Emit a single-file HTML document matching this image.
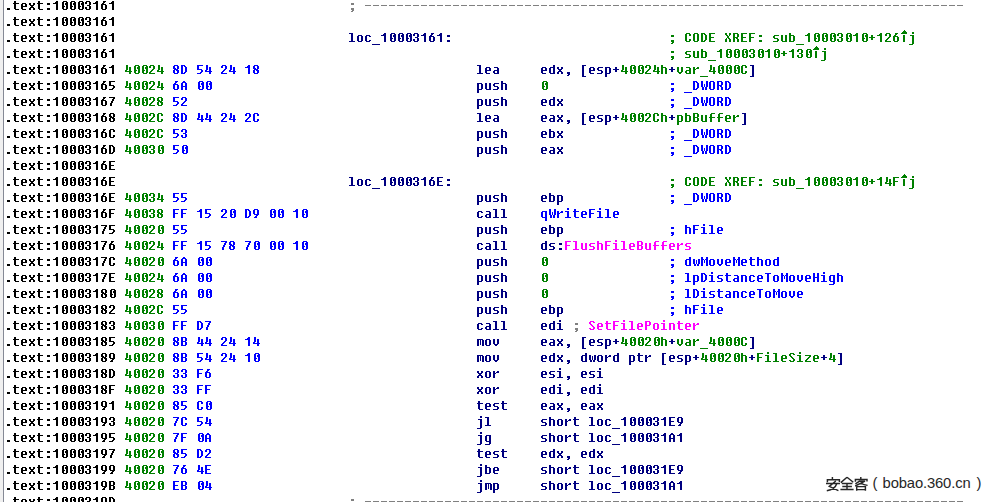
<!DOCTYPE html>
<html><head><meta charset="utf-8"><style>
html,body{margin:0;padding:0;}
body{width:996px;height:502px;overflow:hidden;background:#fff;position:relative;}
#gut{position:absolute;left:0;top:0;width:3px;height:502px;background:#f0f0f0;}
#gl{position:absolute;left:3px;top:0;width:1px;height:502px;background:#858995;}
svg{position:absolute;left:0;top:0;}

</style></head><body>
<div id="gut"></div><div id="gl"></div>
<svg width="996" height="502" viewBox="0 0 996 502" shape-rendering="crispEdges"><defs><path id="g2e" d="M2 8h3v1h-3zM2 9h3v1h-3z"/>
<path id="g3a" d="M2 3h3v1h-3zM2 4h3v1h-3zM2 8h3v1h-3zM2 9h3v1h-3z"/>
<path id="g3b" d="M2 3h3v1h-3zM2 4h3v1h-3zM2 8h3v1h-3zM2 9h3v1h-3zM3 10h2v1h-2zM2 11h2v1h-2z"/>
<path id="g2c" d="M2 8h3v1h-3zM2 9h3v1h-3zM3 10h2v1h-2zM2 11h2v1h-2z"/>
<path id="g2d" d="M0 5h6v1h-6z"/>
<path id="g5f" d="M-1 12h8v1h-8z"/>
<path id="g2b" d="M2 3h2v1h-2zM2 4h2v1h-2zM0 5h6v1h-6zM2 6h2v1h-2zM2 7h2v1h-2z"/>
<path id="g5b" d="M1 1h4v1h-4zM1 2h2v1h-2zM1 3h2v1h-2zM1 4h2v1h-2zM1 5h2v1h-2zM1 6h2v1h-2zM1 7h2v1h-2zM1 8h2v1h-2zM1 9h2v1h-2zM1 10h2v1h-2zM1 11h2v1h-2zM1 12h4v1h-4z"/>
<path id="g5d" d="M1 1h4v1h-4zM3 2h2v1h-2zM3 3h2v1h-2zM3 4h2v1h-2zM3 5h2v1h-2zM3 6h2v1h-2zM3 7h2v1h-2zM3 8h2v1h-2zM3 9h2v1h-2zM3 10h2v1h-2zM3 11h2v1h-2zM1 12h4v1h-4z"/>
<path id="garr" d="M3 -2h1v1h-1zM2 -1h3v1h-3zM1 0h5v1h-5zM0 1h6v1h-6zM2 3h2v1h-2zM2 4h2v1h-2zM2 5h2v1h-2zM2 6h2v1h-2zM2 7h2v1h-2zM2 8h2v1h-2zM2 9h2v1h-2z"/>
<path id="g30" d="M2 1h4v1h-4zM1 2h2v1h-2zM5 2h2v1h-2zM1 3h2v1h-2zM4 3h3v1h-3zM1 4h2v1h-2zM4 4h3v1h-3zM1 5h2v1h-2zM5 5h2v1h-2zM1 6h3v1h-3zM5 6h2v1h-2zM1 7h2v1h-2zM5 7h2v1h-2zM1 8h2v1h-2zM5 8h2v1h-2zM2 9h4v1h-4z"/>
<path id="g31" d="M3 1h2v1h-2zM2 2h3v1h-3zM0 3h5v1h-5zM3 4h2v1h-2zM3 5h2v1h-2zM3 6h2v1h-2zM3 7h2v1h-2zM3 8h2v1h-2zM3 9h2v1h-2z"/>
<path id="g32" d="M1 1h4v1h-4zM0 2h2v1h-2zM4 2h2v1h-2zM0 3h2v1h-2zM4 3h2v1h-2zM4 4h2v1h-2zM3 5h2v1h-2zM2 6h2v1h-2zM1 7h2v1h-2zM0 8h2v1h-2zM0 9h6v1h-6z"/>
<path id="g33" d="M1 1h4v1h-4zM0 2h2v1h-2zM4 2h2v1h-2zM0 3h2v1h-2zM4 3h2v1h-2zM4 4h2v1h-2zM2 5h3v1h-3zM4 6h2v1h-2zM0 7h2v1h-2zM4 7h2v1h-2zM0 8h2v1h-2zM4 8h2v1h-2zM1 9h4v1h-4z"/>
<path id="g34" d="M1 1h2v1h-2zM1 2h2v1h-2zM1 3h2v1h-2zM4 3h2v1h-2zM1 4h2v1h-2zM4 4h2v1h-2zM1 5h2v1h-2zM4 5h2v1h-2zM0 6h2v1h-2zM4 6h2v1h-2zM0 7h7v1h-7zM4 8h2v1h-2zM4 9h2v1h-2z"/>
<path id="g35" d="M0 1h6v1h-6zM0 2h2v1h-2zM0 3h2v1h-2zM0 4h2v1h-2zM0 5h5v1h-5zM4 6h2v1h-2zM4 7h2v1h-2zM3 8h2v1h-2zM0 9h4v1h-4z"/>
<path id="g36" d="M2 1h3v1h-3zM2 2h2v1h-2zM1 3h2v1h-2zM0 4h5v1h-5zM0 5h2v1h-2zM4 5h2v1h-2zM0 6h2v1h-2zM4 6h2v1h-2zM0 7h2v1h-2zM4 7h2v1h-2zM0 8h2v1h-2zM4 8h2v1h-2zM1 9h4v1h-4z"/>
<path id="g38" d="M1 1h4v1h-4zM0 2h2v1h-2zM4 2h2v1h-2zM0 3h2v1h-2zM4 3h2v1h-2zM0 4h3v1h-3zM4 4h2v1h-2zM1 5h4v1h-4zM0 6h2v1h-2zM3 6h3v1h-3zM0 7h2v1h-2zM4 7h2v1h-2zM0 8h2v1h-2zM4 8h2v1h-2zM1 9h4v1h-4z"/>
<path id="g43" d="M1 1h4v1h-4zM0 2h2v1h-2zM4 2h2v1h-2zM0 3h2v1h-2zM4 3h2v1h-2zM0 4h2v1h-2zM0 5h2v1h-2zM0 6h2v1h-2zM0 7h2v1h-2zM4 7h2v1h-2zM0 8h2v1h-2zM4 8h2v1h-2zM1 9h4v1h-4z"/>
<path id="g44" d="M0 1h4v1h-4zM0 2h2v1h-2zM3 2h2v1h-2zM0 3h2v1h-2zM4 3h2v1h-2zM0 4h2v1h-2zM4 4h2v1h-2zM0 5h2v1h-2zM4 5h2v1h-2zM0 6h2v1h-2zM4 6h2v1h-2zM0 7h2v1h-2zM4 7h2v1h-2zM0 8h2v1h-2zM3 8h2v1h-2zM0 9h4v1h-4z"/>
<path id="g45" d="M0 1h6v1h-6zM0 2h2v1h-2zM0 3h2v1h-2zM0 4h2v1h-2zM0 5h5v1h-5zM0 6h2v1h-2zM0 7h2v1h-2zM0 8h2v1h-2zM0 9h6v1h-6z"/>
<path id="g46" d="M0 1h6v1h-6zM0 2h2v1h-2zM0 3h2v1h-2zM0 4h2v1h-2zM0 5h5v1h-5zM0 6h2v1h-2zM0 7h2v1h-2zM0 8h2v1h-2zM0 9h2v1h-2z"/>
<path id="g4f" d="M1 1h4v1h-4zM0 2h2v1h-2zM4 2h2v1h-2zM0 3h2v1h-2zM4 3h2v1h-2zM0 4h2v1h-2zM4 4h2v1h-2zM0 5h2v1h-2zM4 5h2v1h-2zM0 6h2v1h-2zM4 6h2v1h-2zM0 7h2v1h-2zM4 7h2v1h-2zM0 8h2v1h-2zM4 8h2v1h-2zM1 9h4v1h-4z"/>
<path id="g52" d="M0 1h5v1h-5zM0 2h2v1h-2zM4 2h2v1h-2zM0 3h2v1h-2zM4 3h2v1h-2zM0 4h2v1h-2zM4 4h2v1h-2zM0 5h5v1h-5zM0 6h2v1h-2zM3 6h2v1h-2zM0 7h2v1h-2zM4 7h2v1h-2zM0 8h2v1h-2zM4 8h2v1h-2zM0 9h2v1h-2zM4 9h2v1h-2z"/>
<path id="g58" d="M0 1h2v1h-2zM4 1h2v1h-2zM0 2h2v1h-2zM4 2h2v1h-2zM1 3h2v1h-2zM4 3h1v1h-1zM2 4h2v1h-2zM2 5h2v1h-2zM1 6h1v1h-1zM3 6h2v1h-2zM0 7h2v1h-2zM4 7h2v1h-2zM0 8h2v1h-2zM4 8h2v1h-2zM0 9h2v1h-2zM4 9h2v1h-2z"/>
<path id="g57" d="M0 1h2v1h-2zM5 1h2v1h-2zM0 2h2v1h-2zM5 2h2v1h-2zM0 3h2v1h-2zM5 3h2v1h-2zM0 4h2v1h-2zM3 4h1v1h-1zM5 4h2v1h-2zM0 5h2v1h-2zM3 5h1v1h-1zM5 5h2v1h-2zM0 6h2v1h-2zM3 6h1v1h-1zM5 6h2v1h-2zM1 7h2v1h-2zM4 7h2v1h-2zM1 8h2v1h-2zM4 8h2v1h-2zM1 9h2v1h-2zM4 9h2v1h-2z"/>
<path id="g61" d="M1 3h4v1h-4zM4 4h2v1h-2zM4 5h2v1h-2zM1 6h5v1h-5zM0 7h2v1h-2zM4 7h2v1h-2zM0 8h2v1h-2zM4 8h2v1h-2zM1 9h5v1h-5z"/>
<path id="g62" d="M0 1h2v1h-2zM0 2h2v1h-2zM0 3h5v1h-5zM0 4h2v1h-2zM4 4h2v1h-2zM0 5h2v1h-2zM4 5h2v1h-2zM0 6h2v1h-2zM4 6h2v1h-2zM0 7h2v1h-2zM4 7h2v1h-2zM0 8h2v1h-2zM4 8h2v1h-2zM0 9h5v1h-5z"/>
<path id="g63" d="M1 3h4v1h-4zM0 4h2v1h-2zM4 4h2v1h-2zM0 5h2v1h-2zM0 6h2v1h-2zM0 7h2v1h-2zM0 8h2v1h-2zM4 8h2v1h-2zM1 9h4v1h-4z"/>
<path id="g64" d="M4 1h2v1h-2zM4 2h2v1h-2zM1 3h5v1h-5zM0 4h2v1h-2zM4 4h2v1h-2zM0 5h2v1h-2zM4 5h2v1h-2zM0 6h2v1h-2zM4 6h2v1h-2zM0 7h2v1h-2zM4 7h2v1h-2zM0 8h2v1h-2zM4 8h2v1h-2zM1 9h5v1h-5z"/>
<path id="g65" d="M1 3h4v1h-4zM0 4h2v1h-2zM4 4h2v1h-2zM0 5h2v1h-2zM4 5h2v1h-2zM0 6h6v1h-6zM0 7h2v1h-2zM0 8h2v1h-2zM1 9h4v1h-4z"/>
<path id="g68" d="M0 1h2v1h-2zM0 2h2v1h-2zM0 3h5v1h-5zM0 4h2v1h-2zM4 4h2v1h-2zM0 5h2v1h-2zM4 5h2v1h-2zM0 6h2v1h-2zM4 6h2v1h-2zM0 7h2v1h-2zM4 7h2v1h-2zM0 8h2v1h-2zM4 8h2v1h-2zM0 9h2v1h-2zM4 9h2v1h-2z"/>
<path id="g6a" d="M3 0h2v1h-2zM3 1h2v1h-2zM1 3h4v1h-4zM3 4h2v1h-2zM3 5h2v1h-2zM3 6h2v1h-2zM3 7h2v1h-2zM3 8h2v1h-2zM3 9h2v1h-2zM3 10h2v1h-2zM3 11h2v1h-2zM0 12h4v1h-4z"/>
<path id="g6c" d="M0 1h4v1h-4zM2 2h2v1h-2zM2 3h2v1h-2zM2 4h2v1h-2zM2 5h2v1h-2zM2 6h2v1h-2zM2 7h2v1h-2zM2 8h2v1h-2zM0 9h6v1h-6z"/>
<path id="g6f" d="M1 3h4v1h-4zM0 4h2v1h-2zM4 4h2v1h-2zM0 5h2v1h-2zM4 5h2v1h-2zM0 6h2v1h-2zM4 6h2v1h-2zM0 7h2v1h-2zM4 7h2v1h-2zM0 8h2v1h-2zM4 8h2v1h-2zM1 9h4v1h-4z"/>
<path id="g70" d="M0 3h5v1h-5zM0 4h2v1h-2zM4 4h2v1h-2zM0 5h2v1h-2zM4 5h2v1h-2zM0 6h2v1h-2zM4 6h2v1h-2zM0 7h2v1h-2zM4 7h2v1h-2zM0 8h2v1h-2zM4 8h2v1h-2zM0 9h5v1h-5zM0 10h2v1h-2zM0 11h2v1h-2zM0 12h2v1h-2z"/>
<path id="g72" d="M0 3h2v1h-2zM4 3h2v1h-2zM0 4h2v1h-2zM3 4h3v1h-3zM0 5h3v1h-3zM0 6h2v1h-2zM0 7h2v1h-2zM0 8h2v1h-2zM0 9h2v1h-2z"/>
<path id="g73" d="M1 3h5v1h-5zM0 4h2v1h-2zM0 5h2v1h-2zM1 6h4v1h-4zM4 7h2v1h-2zM4 8h2v1h-2zM0 9h5v1h-5z"/>
<path id="g74" d="M1 1h2v1h-2zM1 2h2v1h-2zM0 3h6v1h-6zM1 4h2v1h-2zM1 5h2v1h-2zM1 6h2v1h-2zM1 7h2v1h-2zM1 8h2v1h-2zM2 9h4v1h-4z"/>
<path id="g75" d="M0 3h2v1h-2zM4 3h2v1h-2zM0 4h2v1h-2zM4 4h2v1h-2zM0 5h2v1h-2zM4 5h2v1h-2zM0 6h2v1h-2zM4 6h2v1h-2zM0 7h2v1h-2zM4 7h2v1h-2zM0 8h2v1h-2zM4 8h2v1h-2zM1 9h5v1h-5z"/>
<path id="g76" d="M0 3h2v1h-2zM4 3h2v1h-2zM0 4h2v1h-2zM4 4h2v1h-2zM0 5h2v1h-2zM4 5h2v1h-2zM0 6h2v1h-2zM4 6h2v1h-2zM0 7h2v1h-2zM4 7h2v1h-2zM1 8h4v1h-4zM2 9h2v1h-2z"/>
<path id="g78" d="M0 3h2v1h-2zM4 3h2v1h-2zM0 4h2v1h-2zM4 4h2v1h-2zM1 5h4v1h-4zM2 6h2v1h-2zM1 7h4v1h-4zM0 8h2v1h-2zM4 8h2v1h-2zM0 9h2v1h-2zM4 9h2v1h-2z"/>
<path id="g37" d="M0 1h6v1h-6zM4 2h2v1h-2zM3 3h2v1h-2zM3 4h2v1h-2zM2 5h2v1h-2zM2 6h2v1h-2zM1 7h2v1h-2zM1 8h2v1h-2zM1 9h2v1h-2z"/>
<path id="g39" d="M1 1h4v1h-4zM0 2h2v1h-2zM4 2h2v1h-2zM0 3h2v1h-2zM4 3h2v1h-2zM0 4h2v1h-2zM4 4h2v1h-2zM0 5h2v1h-2zM4 5h2v1h-2zM1 6h5v1h-5zM3 7h2v1h-2zM2 8h2v1h-2zM1 9h3v1h-3z"/>
<path id="g41" d="M2 1h2v1h-2zM1 2h4v1h-4zM0 3h2v1h-2zM4 3h2v1h-2zM0 4h2v1h-2zM4 4h2v1h-2zM0 5h2v1h-2zM4 5h2v1h-2zM0 6h6v1h-6zM0 7h2v1h-2zM4 7h2v1h-2zM0 8h2v1h-2zM4 8h2v1h-2zM0 9h2v1h-2zM4 9h2v1h-2z"/>
<path id="g42" d="M0 1h5v1h-5zM0 2h2v1h-2zM4 2h2v1h-2zM0 3h2v1h-2zM4 3h2v1h-2zM0 4h2v1h-2zM4 4h2v1h-2zM0 5h5v1h-5zM0 6h2v1h-2zM4 6h2v1h-2zM0 7h2v1h-2zM4 7h2v1h-2zM0 8h2v1h-2zM4 8h2v1h-2zM0 9h5v1h-5z"/>
<path id="g48" d="M0 1h2v1h-2zM4 1h2v1h-2zM0 2h2v1h-2zM4 2h2v1h-2zM0 3h2v1h-2zM4 3h2v1h-2zM0 4h2v1h-2zM4 4h2v1h-2zM0 5h6v1h-6zM0 6h2v1h-2zM4 6h2v1h-2zM0 7h2v1h-2zM4 7h2v1h-2zM0 8h2v1h-2zM4 8h2v1h-2zM0 9h2v1h-2zM4 9h2v1h-2z"/>
<path id="g4d" d="M0 1h2v1h-2zM5 1h2v1h-2zM0 2h2v1h-2zM5 2h2v1h-2zM0 3h3v1h-3zM4 3h3v1h-3zM0 4h2v1h-2zM3 4h1v1h-1zM5 4h2v1h-2zM0 5h2v1h-2zM3 5h1v1h-1zM5 5h2v1h-2zM0 6h2v1h-2zM3 6h1v1h-1zM5 6h2v1h-2zM0 7h2v1h-2zM5 7h2v1h-2zM0 8h2v1h-2zM5 8h2v1h-2zM0 9h2v1h-2zM5 9h2v1h-2z"/>
<path id="g50" d="M0 1h5v1h-5zM0 2h2v1h-2zM4 2h2v1h-2zM0 3h2v1h-2zM4 3h2v1h-2zM0 4h2v1h-2zM4 4h2v1h-2zM0 5h5v1h-5zM0 6h2v1h-2zM0 7h2v1h-2zM0 8h2v1h-2zM0 9h2v1h-2z"/>
<path id="g53" d="M1 1h4v1h-4zM0 2h2v1h-2zM4 2h2v1h-2zM0 3h2v1h-2zM1 4h2v1h-2zM2 5h2v1h-2zM3 6h2v1h-2zM4 7h2v1h-2zM0 8h2v1h-2zM4 8h2v1h-2zM1 9h4v1h-4z"/>
<path id="g54" d="M0 1h6v1h-6zM2 2h2v1h-2zM2 3h2v1h-2zM2 4h2v1h-2zM2 5h2v1h-2zM2 6h2v1h-2zM2 7h2v1h-2zM2 8h2v1h-2zM2 9h2v1h-2z"/>
<path id="g66" d="M2 1h4v1h-4zM1 2h2v1h-2zM1 3h2v1h-2zM1 4h2v1h-2zM0 5h6v1h-6zM1 6h2v1h-2zM1 7h2v1h-2zM1 8h2v1h-2zM1 9h2v1h-2z"/>
<path id="g67" d="M1 3h5v1h-5zM0 4h2v1h-2zM4 4h2v1h-2zM0 5h2v1h-2zM4 5h2v1h-2zM0 6h2v1h-2zM4 6h2v1h-2zM0 7h2v1h-2zM4 7h2v1h-2zM0 8h2v1h-2zM4 8h2v1h-2zM1 9h5v1h-5zM4 10h2v1h-2zM4 11h2v1h-2zM0 12h5v1h-5z"/>
<path id="g69" d="M2 0h2v1h-2zM2 1h2v1h-2zM0 3h4v1h-4zM2 4h2v1h-2zM2 5h2v1h-2zM2 6h2v1h-2zM2 7h2v1h-2zM2 8h2v1h-2zM0 9h6v1h-6z"/>
<path id="g6d" d="M0 3h6v1h-6zM0 4h2v1h-2zM3 4h1v1h-1zM5 4h2v1h-2zM0 5h2v1h-2zM3 5h1v1h-1zM5 5h2v1h-2zM0 6h2v1h-2zM3 6h1v1h-1zM5 6h2v1h-2zM0 7h2v1h-2zM3 7h1v1h-1zM5 7h2v1h-2zM0 8h2v1h-2zM3 8h1v1h-1zM5 8h2v1h-2zM0 9h2v1h-2zM5 9h2v1h-2z"/>
<path id="g6e" d="M0 3h5v1h-5zM0 4h2v1h-2zM4 4h2v1h-2zM0 5h2v1h-2zM4 5h2v1h-2zM0 6h2v1h-2zM4 6h2v1h-2zM0 7h2v1h-2zM4 7h2v1h-2zM0 8h2v1h-2zM4 8h2v1h-2zM0 9h2v1h-2zM4 9h2v1h-2z"/>
<path id="g71" d="M1 3h5v1h-5zM0 4h2v1h-2zM4 4h2v1h-2zM0 5h2v1h-2zM4 5h2v1h-2zM0 6h2v1h-2zM4 6h2v1h-2zM0 7h2v1h-2zM4 7h2v1h-2zM0 8h2v1h-2zM4 8h2v1h-2zM1 9h5v1h-5zM4 10h2v1h-2zM4 11h2v1h-2zM4 12h2v1h-2z"/>
<path id="g77" d="M0 3h2v1h-2zM5 3h2v1h-2zM0 4h2v1h-2zM3 4h1v1h-1zM5 4h2v1h-2zM0 5h2v1h-2zM3 5h1v1h-1zM5 5h2v1h-2zM0 6h2v1h-2zM3 6h1v1h-1zM5 6h2v1h-2zM0 7h2v1h-2zM3 7h1v1h-1zM5 7h2v1h-2zM1 8h2v1h-2zM4 8h2v1h-2zM1 9h2v1h-2zM4 9h2v1h-2z"/>
<path id="g7a" d="M0 3h6v1h-6zM4 4h2v1h-2zM3 5h2v1h-2zM2 6h2v1h-2zM1 7h2v1h-2zM0 8h2v1h-2zM0 9h6v1h-6z"/></defs>
<use href="#g2e" x="5" y="0" fill="#000000"/>
<use href="#g74" x="13" y="0" fill="#000000"/>
<use href="#g65" x="21" y="0" fill="#000000"/>
<use href="#g78" x="29" y="0" fill="#000000"/>
<use href="#g74" x="37" y="0" fill="#000000"/>
<use href="#g3a" x="45" y="0" fill="#000000"/>
<use href="#g31" x="53" y="0" fill="#000000"/>
<use href="#g30" x="61" y="0" fill="#000000"/>
<use href="#g30" x="69" y="0" fill="#000000"/>
<use href="#g30" x="77" y="0" fill="#000000"/>
<use href="#g33" x="85" y="0" fill="#000000"/>
<use href="#g31" x="93" y="0" fill="#000000"/>
<use href="#g36" x="101" y="0" fill="#000000"/>
<use href="#g31" x="109" y="0" fill="#000000"/>
<use href="#g3b" x="349" y="0" fill="#808080"/>
<use href="#g2d" x="365" y="0" fill="#808080"/>
<use href="#g2d" x="373" y="0" fill="#808080"/>
<use href="#g2d" x="381" y="0" fill="#808080"/>
<use href="#g2d" x="389" y="0" fill="#808080"/>
<use href="#g2d" x="397" y="0" fill="#808080"/>
<use href="#g2d" x="405" y="0" fill="#808080"/>
<use href="#g2d" x="413" y="0" fill="#808080"/>
<use href="#g2d" x="421" y="0" fill="#808080"/>
<use href="#g2d" x="429" y="0" fill="#808080"/>
<use href="#g2d" x="437" y="0" fill="#808080"/>
<use href="#g2d" x="445" y="0" fill="#808080"/>
<use href="#g2d" x="453" y="0" fill="#808080"/>
<use href="#g2d" x="461" y="0" fill="#808080"/>
<use href="#g2d" x="469" y="0" fill="#808080"/>
<use href="#g2d" x="477" y="0" fill="#808080"/>
<use href="#g2d" x="485" y="0" fill="#808080"/>
<use href="#g2d" x="493" y="0" fill="#808080"/>
<use href="#g2d" x="501" y="0" fill="#808080"/>
<use href="#g2d" x="509" y="0" fill="#808080"/>
<use href="#g2d" x="517" y="0" fill="#808080"/>
<use href="#g2d" x="525" y="0" fill="#808080"/>
<use href="#g2d" x="533" y="0" fill="#808080"/>
<use href="#g2d" x="541" y="0" fill="#808080"/>
<use href="#g2d" x="549" y="0" fill="#808080"/>
<use href="#g2d" x="557" y="0" fill="#808080"/>
<use href="#g2d" x="565" y="0" fill="#808080"/>
<use href="#g2d" x="573" y="0" fill="#808080"/>
<use href="#g2d" x="581" y="0" fill="#808080"/>
<use href="#g2d" x="589" y="0" fill="#808080"/>
<use href="#g2d" x="597" y="0" fill="#808080"/>
<use href="#g2d" x="605" y="0" fill="#808080"/>
<use href="#g2d" x="613" y="0" fill="#808080"/>
<use href="#g2d" x="621" y="0" fill="#808080"/>
<use href="#g2d" x="629" y="0" fill="#808080"/>
<use href="#g2d" x="637" y="0" fill="#808080"/>
<use href="#g2d" x="645" y="0" fill="#808080"/>
<use href="#g2d" x="653" y="0" fill="#808080"/>
<use href="#g2d" x="661" y="0" fill="#808080"/>
<use href="#g2d" x="669" y="0" fill="#808080"/>
<use href="#g2d" x="677" y="0" fill="#808080"/>
<use href="#g2d" x="685" y="0" fill="#808080"/>
<use href="#g2d" x="693" y="0" fill="#808080"/>
<use href="#g2d" x="701" y="0" fill="#808080"/>
<use href="#g2d" x="709" y="0" fill="#808080"/>
<use href="#g2d" x="717" y="0" fill="#808080"/>
<use href="#g2d" x="725" y="0" fill="#808080"/>
<use href="#g2d" x="733" y="0" fill="#808080"/>
<use href="#g2d" x="741" y="0" fill="#808080"/>
<use href="#g2d" x="749" y="0" fill="#808080"/>
<use href="#g2d" x="757" y="0" fill="#808080"/>
<use href="#g2d" x="765" y="0" fill="#808080"/>
<use href="#g2d" x="773" y="0" fill="#808080"/>
<use href="#g2d" x="781" y="0" fill="#808080"/>
<use href="#g2d" x="789" y="0" fill="#808080"/>
<use href="#g2d" x="797" y="0" fill="#808080"/>
<use href="#g2d" x="805" y="0" fill="#808080"/>
<use href="#g2d" x="813" y="0" fill="#808080"/>
<use href="#g2d" x="821" y="0" fill="#808080"/>
<use href="#g2d" x="829" y="0" fill="#808080"/>
<use href="#g2d" x="837" y="0" fill="#808080"/>
<use href="#g2d" x="845" y="0" fill="#808080"/>
<use href="#g2d" x="853" y="0" fill="#808080"/>
<use href="#g2d" x="861" y="0" fill="#808080"/>
<use href="#g2d" x="869" y="0" fill="#808080"/>
<use href="#g2d" x="877" y="0" fill="#808080"/>
<use href="#g2d" x="885" y="0" fill="#808080"/>
<use href="#g2d" x="893" y="0" fill="#808080"/>
<use href="#g2d" x="901" y="0" fill="#808080"/>
<use href="#g2d" x="909" y="0" fill="#808080"/>
<use href="#g2d" x="917" y="0" fill="#808080"/>
<use href="#g2d" x="925" y="0" fill="#808080"/>
<use href="#g2d" x="933" y="0" fill="#808080"/>
<use href="#g2d" x="941" y="0" fill="#808080"/>
<use href="#g2d" x="949" y="0" fill="#808080"/>
<use href="#g2d" x="957" y="0" fill="#808080"/>
<use href="#g2e" x="5" y="16" fill="#000000"/>
<use href="#g74" x="13" y="16" fill="#000000"/>
<use href="#g65" x="21" y="16" fill="#000000"/>
<use href="#g78" x="29" y="16" fill="#000000"/>
<use href="#g74" x="37" y="16" fill="#000000"/>
<use href="#g3a" x="45" y="16" fill="#000000"/>
<use href="#g31" x="53" y="16" fill="#000000"/>
<use href="#g30" x="61" y="16" fill="#000000"/>
<use href="#g30" x="69" y="16" fill="#000000"/>
<use href="#g30" x="77" y="16" fill="#000000"/>
<use href="#g33" x="85" y="16" fill="#000000"/>
<use href="#g31" x="93" y="16" fill="#000000"/>
<use href="#g36" x="101" y="16" fill="#000000"/>
<use href="#g31" x="109" y="16" fill="#000000"/>
<use href="#g2e" x="5" y="32" fill="#000000"/>
<use href="#g74" x="13" y="32" fill="#000000"/>
<use href="#g65" x="21" y="32" fill="#000000"/>
<use href="#g78" x="29" y="32" fill="#000000"/>
<use href="#g74" x="37" y="32" fill="#000000"/>
<use href="#g3a" x="45" y="32" fill="#000000"/>
<use href="#g31" x="53" y="32" fill="#000000"/>
<use href="#g30" x="61" y="32" fill="#000000"/>
<use href="#g30" x="69" y="32" fill="#000000"/>
<use href="#g30" x="77" y="32" fill="#000000"/>
<use href="#g33" x="85" y="32" fill="#000000"/>
<use href="#g31" x="93" y="32" fill="#000000"/>
<use href="#g36" x="101" y="32" fill="#000000"/>
<use href="#g31" x="109" y="32" fill="#000000"/>
<use href="#g6c" x="349" y="32" fill="#000080"/>
<use href="#g6f" x="357" y="32" fill="#000080"/>
<use href="#g63" x="365" y="32" fill="#000080"/>
<use href="#g5f" x="373" y="32" fill="#000080"/>
<use href="#g31" x="381" y="32" fill="#000080"/>
<use href="#g30" x="389" y="32" fill="#000080"/>
<use href="#g30" x="397" y="32" fill="#000080"/>
<use href="#g30" x="405" y="32" fill="#000080"/>
<use href="#g33" x="413" y="32" fill="#000080"/>
<use href="#g31" x="421" y="32" fill="#000080"/>
<use href="#g36" x="429" y="32" fill="#000080"/>
<use href="#g31" x="437" y="32" fill="#000080"/>
<use href="#g3a" x="445" y="32" fill="#000080"/>
<use href="#g3b" x="669" y="32" fill="#008000"/>
<use href="#g43" x="685" y="32" fill="#008000"/>
<use href="#g4f" x="693" y="32" fill="#008000"/>
<use href="#g44" x="701" y="32" fill="#008000"/>
<use href="#g45" x="709" y="32" fill="#008000"/>
<use href="#g58" x="725" y="32" fill="#008000"/>
<use href="#g52" x="733" y="32" fill="#008000"/>
<use href="#g45" x="741" y="32" fill="#008000"/>
<use href="#g46" x="749" y="32" fill="#008000"/>
<use href="#g3a" x="757" y="32" fill="#008000"/>
<use href="#g73" x="773" y="32" fill="#008000"/>
<use href="#g75" x="781" y="32" fill="#008000"/>
<use href="#g62" x="789" y="32" fill="#008000"/>
<use href="#g5f" x="797" y="32" fill="#008000"/>
<use href="#g31" x="805" y="32" fill="#008000"/>
<use href="#g30" x="813" y="32" fill="#008000"/>
<use href="#g30" x="821" y="32" fill="#008000"/>
<use href="#g30" x="829" y="32" fill="#008000"/>
<use href="#g33" x="837" y="32" fill="#008000"/>
<use href="#g30" x="845" y="32" fill="#008000"/>
<use href="#g31" x="853" y="32" fill="#008000"/>
<use href="#g30" x="861" y="32" fill="#008000"/>
<use href="#g2b" x="869" y="32" fill="#008000"/>
<use href="#g31" x="877" y="32" fill="#008000"/>
<use href="#g32" x="885" y="32" fill="#008000"/>
<use href="#g36" x="893" y="32" fill="#008000"/>
<use href="#garr" x="901" y="32" fill="#008000"/>
<use href="#g6a" x="909" y="32" fill="#008000"/>
<use href="#g2e" x="5" y="48" fill="#000000"/>
<use href="#g74" x="13" y="48" fill="#000000"/>
<use href="#g65" x="21" y="48" fill="#000000"/>
<use href="#g78" x="29" y="48" fill="#000000"/>
<use href="#g74" x="37" y="48" fill="#000000"/>
<use href="#g3a" x="45" y="48" fill="#000000"/>
<use href="#g31" x="53" y="48" fill="#000000"/>
<use href="#g30" x="61" y="48" fill="#000000"/>
<use href="#g30" x="69" y="48" fill="#000000"/>
<use href="#g30" x="77" y="48" fill="#000000"/>
<use href="#g33" x="85" y="48" fill="#000000"/>
<use href="#g31" x="93" y="48" fill="#000000"/>
<use href="#g36" x="101" y="48" fill="#000000"/>
<use href="#g31" x="109" y="48" fill="#000000"/>
<use href="#g3b" x="669" y="48" fill="#008000"/>
<use href="#g73" x="685" y="48" fill="#008000"/>
<use href="#g75" x="693" y="48" fill="#008000"/>
<use href="#g62" x="701" y="48" fill="#008000"/>
<use href="#g5f" x="709" y="48" fill="#008000"/>
<use href="#g31" x="717" y="48" fill="#008000"/>
<use href="#g30" x="725" y="48" fill="#008000"/>
<use href="#g30" x="733" y="48" fill="#008000"/>
<use href="#g30" x="741" y="48" fill="#008000"/>
<use href="#g33" x="749" y="48" fill="#008000"/>
<use href="#g30" x="757" y="48" fill="#008000"/>
<use href="#g31" x="765" y="48" fill="#008000"/>
<use href="#g30" x="773" y="48" fill="#008000"/>
<use href="#g2b" x="781" y="48" fill="#008000"/>
<use href="#g31" x="789" y="48" fill="#008000"/>
<use href="#g33" x="797" y="48" fill="#008000"/>
<use href="#g30" x="805" y="48" fill="#008000"/>
<use href="#garr" x="813" y="48" fill="#008000"/>
<use href="#g6a" x="821" y="48" fill="#008000"/>
<use href="#g2e" x="5" y="64" fill="#000000"/>
<use href="#g74" x="13" y="64" fill="#000000"/>
<use href="#g65" x="21" y="64" fill="#000000"/>
<use href="#g78" x="29" y="64" fill="#000000"/>
<use href="#g74" x="37" y="64" fill="#000000"/>
<use href="#g3a" x="45" y="64" fill="#000000"/>
<use href="#g31" x="53" y="64" fill="#000000"/>
<use href="#g30" x="61" y="64" fill="#000000"/>
<use href="#g30" x="69" y="64" fill="#000000"/>
<use href="#g30" x="77" y="64" fill="#000000"/>
<use href="#g33" x="85" y="64" fill="#000000"/>
<use href="#g31" x="93" y="64" fill="#000000"/>
<use href="#g36" x="101" y="64" fill="#000000"/>
<use href="#g31" x="109" y="64" fill="#000000"/>
<use href="#g34" x="125" y="64" fill="#008000"/>
<use href="#g30" x="133" y="64" fill="#008000"/>
<use href="#g30" x="141" y="64" fill="#008000"/>
<use href="#g32" x="149" y="64" fill="#008000"/>
<use href="#g34" x="157" y="64" fill="#008000"/>
<use href="#g38" x="173" y="64" fill="#0000ff"/>
<use href="#g44" x="181" y="64" fill="#0000ff"/>
<use href="#g35" x="197" y="64" fill="#0000ff"/>
<use href="#g34" x="205" y="64" fill="#0000ff"/>
<use href="#g32" x="221" y="64" fill="#0000ff"/>
<use href="#g34" x="229" y="64" fill="#0000ff"/>
<use href="#g31" x="245" y="64" fill="#0000ff"/>
<use href="#g38" x="253" y="64" fill="#0000ff"/>
<use href="#g6c" x="477" y="64" fill="#000080"/>
<use href="#g65" x="485" y="64" fill="#000080"/>
<use href="#g61" x="493" y="64" fill="#000080"/>
<use href="#g65" x="541" y="64" fill="#000080"/>
<use href="#g64" x="549" y="64" fill="#000080"/>
<use href="#g78" x="557" y="64" fill="#000080"/>
<use href="#g2c" x="565" y="64" fill="#000080"/>
<use href="#g5b" x="581" y="64" fill="#000080"/>
<use href="#g65" x="589" y="64" fill="#000080"/>
<use href="#g73" x="597" y="64" fill="#000080"/>
<use href="#g70" x="605" y="64" fill="#000080"/>
<use href="#g2b" x="613" y="64" fill="#000080"/>
<use href="#g34" x="621" y="64" fill="#008000"/>
<use href="#g30" x="629" y="64" fill="#008000"/>
<use href="#g30" x="637" y="64" fill="#008000"/>
<use href="#g32" x="645" y="64" fill="#008000"/>
<use href="#g34" x="653" y="64" fill="#008000"/>
<use href="#g68" x="661" y="64" fill="#008000"/>
<use href="#g2b" x="669" y="64" fill="#000080"/>
<use href="#g76" x="677" y="64" fill="#008000"/>
<use href="#g61" x="685" y="64" fill="#008000"/>
<use href="#g72" x="693" y="64" fill="#008000"/>
<use href="#g5f" x="701" y="64" fill="#008000"/>
<use href="#g34" x="709" y="64" fill="#008000"/>
<use href="#g30" x="717" y="64" fill="#008000"/>
<use href="#g30" x="725" y="64" fill="#008000"/>
<use href="#g30" x="733" y="64" fill="#008000"/>
<use href="#g43" x="741" y="64" fill="#008000"/>
<use href="#g5d" x="749" y="64" fill="#000080"/>
<use href="#g2e" x="5" y="80" fill="#000000"/>
<use href="#g74" x="13" y="80" fill="#000000"/>
<use href="#g65" x="21" y="80" fill="#000000"/>
<use href="#g78" x="29" y="80" fill="#000000"/>
<use href="#g74" x="37" y="80" fill="#000000"/>
<use href="#g3a" x="45" y="80" fill="#000000"/>
<use href="#g31" x="53" y="80" fill="#000000"/>
<use href="#g30" x="61" y="80" fill="#000000"/>
<use href="#g30" x="69" y="80" fill="#000000"/>
<use href="#g30" x="77" y="80" fill="#000000"/>
<use href="#g33" x="85" y="80" fill="#000000"/>
<use href="#g31" x="93" y="80" fill="#000000"/>
<use href="#g36" x="101" y="80" fill="#000000"/>
<use href="#g35" x="109" y="80" fill="#000000"/>
<use href="#g34" x="125" y="80" fill="#008000"/>
<use href="#g30" x="133" y="80" fill="#008000"/>
<use href="#g30" x="141" y="80" fill="#008000"/>
<use href="#g32" x="149" y="80" fill="#008000"/>
<use href="#g34" x="157" y="80" fill="#008000"/>
<use href="#g36" x="173" y="80" fill="#0000ff"/>
<use href="#g41" x="181" y="80" fill="#0000ff"/>
<use href="#g30" x="197" y="80" fill="#0000ff"/>
<use href="#g30" x="205" y="80" fill="#0000ff"/>
<use href="#g70" x="477" y="80" fill="#000080"/>
<use href="#g75" x="485" y="80" fill="#000080"/>
<use href="#g73" x="493" y="80" fill="#000080"/>
<use href="#g68" x="501" y="80" fill="#000080"/>
<use href="#g30" x="541" y="80" fill="#008000"/>
<use href="#g3b" x="669" y="80" fill="#0000ff"/>
<use href="#g5f" x="685" y="80" fill="#0000ff"/>
<use href="#g44" x="693" y="80" fill="#0000ff"/>
<use href="#g57" x="701" y="80" fill="#0000ff"/>
<use href="#g4f" x="709" y="80" fill="#0000ff"/>
<use href="#g52" x="717" y="80" fill="#0000ff"/>
<use href="#g44" x="725" y="80" fill="#0000ff"/>
<use href="#g2e" x="5" y="96" fill="#000000"/>
<use href="#g74" x="13" y="96" fill="#000000"/>
<use href="#g65" x="21" y="96" fill="#000000"/>
<use href="#g78" x="29" y="96" fill="#000000"/>
<use href="#g74" x="37" y="96" fill="#000000"/>
<use href="#g3a" x="45" y="96" fill="#000000"/>
<use href="#g31" x="53" y="96" fill="#000000"/>
<use href="#g30" x="61" y="96" fill="#000000"/>
<use href="#g30" x="69" y="96" fill="#000000"/>
<use href="#g30" x="77" y="96" fill="#000000"/>
<use href="#g33" x="85" y="96" fill="#000000"/>
<use href="#g31" x="93" y="96" fill="#000000"/>
<use href="#g36" x="101" y="96" fill="#000000"/>
<use href="#g37" x="109" y="96" fill="#000000"/>
<use href="#g34" x="125" y="96" fill="#008000"/>
<use href="#g30" x="133" y="96" fill="#008000"/>
<use href="#g30" x="141" y="96" fill="#008000"/>
<use href="#g32" x="149" y="96" fill="#008000"/>
<use href="#g38" x="157" y="96" fill="#008000"/>
<use href="#g35" x="173" y="96" fill="#0000ff"/>
<use href="#g32" x="181" y="96" fill="#0000ff"/>
<use href="#g70" x="477" y="96" fill="#000080"/>
<use href="#g75" x="485" y="96" fill="#000080"/>
<use href="#g73" x="493" y="96" fill="#000080"/>
<use href="#g68" x="501" y="96" fill="#000080"/>
<use href="#g65" x="541" y="96" fill="#000080"/>
<use href="#g64" x="549" y="96" fill="#000080"/>
<use href="#g78" x="557" y="96" fill="#000080"/>
<use href="#g3b" x="669" y="96" fill="#0000ff"/>
<use href="#g5f" x="685" y="96" fill="#0000ff"/>
<use href="#g44" x="693" y="96" fill="#0000ff"/>
<use href="#g57" x="701" y="96" fill="#0000ff"/>
<use href="#g4f" x="709" y="96" fill="#0000ff"/>
<use href="#g52" x="717" y="96" fill="#0000ff"/>
<use href="#g44" x="725" y="96" fill="#0000ff"/>
<use href="#g2e" x="5" y="112" fill="#000000"/>
<use href="#g74" x="13" y="112" fill="#000000"/>
<use href="#g65" x="21" y="112" fill="#000000"/>
<use href="#g78" x="29" y="112" fill="#000000"/>
<use href="#g74" x="37" y="112" fill="#000000"/>
<use href="#g3a" x="45" y="112" fill="#000000"/>
<use href="#g31" x="53" y="112" fill="#000000"/>
<use href="#g30" x="61" y="112" fill="#000000"/>
<use href="#g30" x="69" y="112" fill="#000000"/>
<use href="#g30" x="77" y="112" fill="#000000"/>
<use href="#g33" x="85" y="112" fill="#000000"/>
<use href="#g31" x="93" y="112" fill="#000000"/>
<use href="#g36" x="101" y="112" fill="#000000"/>
<use href="#g38" x="109" y="112" fill="#000000"/>
<use href="#g34" x="125" y="112" fill="#008000"/>
<use href="#g30" x="133" y="112" fill="#008000"/>
<use href="#g30" x="141" y="112" fill="#008000"/>
<use href="#g32" x="149" y="112" fill="#008000"/>
<use href="#g43" x="157" y="112" fill="#008000"/>
<use href="#g38" x="173" y="112" fill="#0000ff"/>
<use href="#g44" x="181" y="112" fill="#0000ff"/>
<use href="#g34" x="197" y="112" fill="#0000ff"/>
<use href="#g34" x="205" y="112" fill="#0000ff"/>
<use href="#g32" x="221" y="112" fill="#0000ff"/>
<use href="#g34" x="229" y="112" fill="#0000ff"/>
<use href="#g32" x="245" y="112" fill="#0000ff"/>
<use href="#g43" x="253" y="112" fill="#0000ff"/>
<use href="#g6c" x="477" y="112" fill="#000080"/>
<use href="#g65" x="485" y="112" fill="#000080"/>
<use href="#g61" x="493" y="112" fill="#000080"/>
<use href="#g65" x="541" y="112" fill="#000080"/>
<use href="#g61" x="549" y="112" fill="#000080"/>
<use href="#g78" x="557" y="112" fill="#000080"/>
<use href="#g2c" x="565" y="112" fill="#000080"/>
<use href="#g5b" x="581" y="112" fill="#000080"/>
<use href="#g65" x="589" y="112" fill="#000080"/>
<use href="#g73" x="597" y="112" fill="#000080"/>
<use href="#g70" x="605" y="112" fill="#000080"/>
<use href="#g2b" x="613" y="112" fill="#000080"/>
<use href="#g34" x="621" y="112" fill="#008000"/>
<use href="#g30" x="629" y="112" fill="#008000"/>
<use href="#g30" x="637" y="112" fill="#008000"/>
<use href="#g32" x="645" y="112" fill="#008000"/>
<use href="#g43" x="653" y="112" fill="#008000"/>
<use href="#g68" x="661" y="112" fill="#008000"/>
<use href="#g2b" x="669" y="112" fill="#000080"/>
<use href="#g70" x="677" y="112" fill="#008000"/>
<use href="#g62" x="685" y="112" fill="#008000"/>
<use href="#g42" x="693" y="112" fill="#008000"/>
<use href="#g75" x="701" y="112" fill="#008000"/>
<use href="#g66" x="709" y="112" fill="#008000"/>
<use href="#g66" x="717" y="112" fill="#008000"/>
<use href="#g65" x="725" y="112" fill="#008000"/>
<use href="#g72" x="733" y="112" fill="#008000"/>
<use href="#g5d" x="741" y="112" fill="#000080"/>
<use href="#g2e" x="5" y="128" fill="#000000"/>
<use href="#g74" x="13" y="128" fill="#000000"/>
<use href="#g65" x="21" y="128" fill="#000000"/>
<use href="#g78" x="29" y="128" fill="#000000"/>
<use href="#g74" x="37" y="128" fill="#000000"/>
<use href="#g3a" x="45" y="128" fill="#000000"/>
<use href="#g31" x="53" y="128" fill="#000000"/>
<use href="#g30" x="61" y="128" fill="#000000"/>
<use href="#g30" x="69" y="128" fill="#000000"/>
<use href="#g30" x="77" y="128" fill="#000000"/>
<use href="#g33" x="85" y="128" fill="#000000"/>
<use href="#g31" x="93" y="128" fill="#000000"/>
<use href="#g36" x="101" y="128" fill="#000000"/>
<use href="#g43" x="109" y="128" fill="#000000"/>
<use href="#g34" x="125" y="128" fill="#008000"/>
<use href="#g30" x="133" y="128" fill="#008000"/>
<use href="#g30" x="141" y="128" fill="#008000"/>
<use href="#g32" x="149" y="128" fill="#008000"/>
<use href="#g43" x="157" y="128" fill="#008000"/>
<use href="#g35" x="173" y="128" fill="#0000ff"/>
<use href="#g33" x="181" y="128" fill="#0000ff"/>
<use href="#g70" x="477" y="128" fill="#000080"/>
<use href="#g75" x="485" y="128" fill="#000080"/>
<use href="#g73" x="493" y="128" fill="#000080"/>
<use href="#g68" x="501" y="128" fill="#000080"/>
<use href="#g65" x="541" y="128" fill="#000080"/>
<use href="#g62" x="549" y="128" fill="#000080"/>
<use href="#g78" x="557" y="128" fill="#000080"/>
<use href="#g3b" x="669" y="128" fill="#0000ff"/>
<use href="#g5f" x="685" y="128" fill="#0000ff"/>
<use href="#g44" x="693" y="128" fill="#0000ff"/>
<use href="#g57" x="701" y="128" fill="#0000ff"/>
<use href="#g4f" x="709" y="128" fill="#0000ff"/>
<use href="#g52" x="717" y="128" fill="#0000ff"/>
<use href="#g44" x="725" y="128" fill="#0000ff"/>
<use href="#g2e" x="5" y="144" fill="#000000"/>
<use href="#g74" x="13" y="144" fill="#000000"/>
<use href="#g65" x="21" y="144" fill="#000000"/>
<use href="#g78" x="29" y="144" fill="#000000"/>
<use href="#g74" x="37" y="144" fill="#000000"/>
<use href="#g3a" x="45" y="144" fill="#000000"/>
<use href="#g31" x="53" y="144" fill="#000000"/>
<use href="#g30" x="61" y="144" fill="#000000"/>
<use href="#g30" x="69" y="144" fill="#000000"/>
<use href="#g30" x="77" y="144" fill="#000000"/>
<use href="#g33" x="85" y="144" fill="#000000"/>
<use href="#g31" x="93" y="144" fill="#000000"/>
<use href="#g36" x="101" y="144" fill="#000000"/>
<use href="#g44" x="109" y="144" fill="#000000"/>
<use href="#g34" x="125" y="144" fill="#008000"/>
<use href="#g30" x="133" y="144" fill="#008000"/>
<use href="#g30" x="141" y="144" fill="#008000"/>
<use href="#g33" x="149" y="144" fill="#008000"/>
<use href="#g30" x="157" y="144" fill="#008000"/>
<use href="#g35" x="173" y="144" fill="#0000ff"/>
<use href="#g30" x="181" y="144" fill="#0000ff"/>
<use href="#g70" x="477" y="144" fill="#000080"/>
<use href="#g75" x="485" y="144" fill="#000080"/>
<use href="#g73" x="493" y="144" fill="#000080"/>
<use href="#g68" x="501" y="144" fill="#000080"/>
<use href="#g65" x="541" y="144" fill="#000080"/>
<use href="#g61" x="549" y="144" fill="#000080"/>
<use href="#g78" x="557" y="144" fill="#000080"/>
<use href="#g3b" x="669" y="144" fill="#0000ff"/>
<use href="#g5f" x="685" y="144" fill="#0000ff"/>
<use href="#g44" x="693" y="144" fill="#0000ff"/>
<use href="#g57" x="701" y="144" fill="#0000ff"/>
<use href="#g4f" x="709" y="144" fill="#0000ff"/>
<use href="#g52" x="717" y="144" fill="#0000ff"/>
<use href="#g44" x="725" y="144" fill="#0000ff"/>
<use href="#g2e" x="5" y="160" fill="#000000"/>
<use href="#g74" x="13" y="160" fill="#000000"/>
<use href="#g65" x="21" y="160" fill="#000000"/>
<use href="#g78" x="29" y="160" fill="#000000"/>
<use href="#g74" x="37" y="160" fill="#000000"/>
<use href="#g3a" x="45" y="160" fill="#000000"/>
<use href="#g31" x="53" y="160" fill="#000000"/>
<use href="#g30" x="61" y="160" fill="#000000"/>
<use href="#g30" x="69" y="160" fill="#000000"/>
<use href="#g30" x="77" y="160" fill="#000000"/>
<use href="#g33" x="85" y="160" fill="#000000"/>
<use href="#g31" x="93" y="160" fill="#000000"/>
<use href="#g36" x="101" y="160" fill="#000000"/>
<use href="#g45" x="109" y="160" fill="#000000"/>
<use href="#g2e" x="5" y="176" fill="#000000"/>
<use href="#g74" x="13" y="176" fill="#000000"/>
<use href="#g65" x="21" y="176" fill="#000000"/>
<use href="#g78" x="29" y="176" fill="#000000"/>
<use href="#g74" x="37" y="176" fill="#000000"/>
<use href="#g3a" x="45" y="176" fill="#000000"/>
<use href="#g31" x="53" y="176" fill="#000000"/>
<use href="#g30" x="61" y="176" fill="#000000"/>
<use href="#g30" x="69" y="176" fill="#000000"/>
<use href="#g30" x="77" y="176" fill="#000000"/>
<use href="#g33" x="85" y="176" fill="#000000"/>
<use href="#g31" x="93" y="176" fill="#000000"/>
<use href="#g36" x="101" y="176" fill="#000000"/>
<use href="#g45" x="109" y="176" fill="#000000"/>
<use href="#g6c" x="349" y="176" fill="#000080"/>
<use href="#g6f" x="357" y="176" fill="#000080"/>
<use href="#g63" x="365" y="176" fill="#000080"/>
<use href="#g5f" x="373" y="176" fill="#000080"/>
<use href="#g31" x="381" y="176" fill="#000080"/>
<use href="#g30" x="389" y="176" fill="#000080"/>
<use href="#g30" x="397" y="176" fill="#000080"/>
<use href="#g30" x="405" y="176" fill="#000080"/>
<use href="#g33" x="413" y="176" fill="#000080"/>
<use href="#g31" x="421" y="176" fill="#000080"/>
<use href="#g36" x="429" y="176" fill="#000080"/>
<use href="#g45" x="437" y="176" fill="#000080"/>
<use href="#g3a" x="445" y="176" fill="#000080"/>
<use href="#g3b" x="669" y="176" fill="#008000"/>
<use href="#g43" x="685" y="176" fill="#008000"/>
<use href="#g4f" x="693" y="176" fill="#008000"/>
<use href="#g44" x="701" y="176" fill="#008000"/>
<use href="#g45" x="709" y="176" fill="#008000"/>
<use href="#g58" x="725" y="176" fill="#008000"/>
<use href="#g52" x="733" y="176" fill="#008000"/>
<use href="#g45" x="741" y="176" fill="#008000"/>
<use href="#g46" x="749" y="176" fill="#008000"/>
<use href="#g3a" x="757" y="176" fill="#008000"/>
<use href="#g73" x="773" y="176" fill="#008000"/>
<use href="#g75" x="781" y="176" fill="#008000"/>
<use href="#g62" x="789" y="176" fill="#008000"/>
<use href="#g5f" x="797" y="176" fill="#008000"/>
<use href="#g31" x="805" y="176" fill="#008000"/>
<use href="#g30" x="813" y="176" fill="#008000"/>
<use href="#g30" x="821" y="176" fill="#008000"/>
<use href="#g30" x="829" y="176" fill="#008000"/>
<use href="#g33" x="837" y="176" fill="#008000"/>
<use href="#g30" x="845" y="176" fill="#008000"/>
<use href="#g31" x="853" y="176" fill="#008000"/>
<use href="#g30" x="861" y="176" fill="#008000"/>
<use href="#g2b" x="869" y="176" fill="#008000"/>
<use href="#g31" x="877" y="176" fill="#008000"/>
<use href="#g34" x="885" y="176" fill="#008000"/>
<use href="#g46" x="893" y="176" fill="#008000"/>
<use href="#garr" x="901" y="176" fill="#008000"/>
<use href="#g6a" x="909" y="176" fill="#008000"/>
<use href="#g2e" x="5" y="192" fill="#000000"/>
<use href="#g74" x="13" y="192" fill="#000000"/>
<use href="#g65" x="21" y="192" fill="#000000"/>
<use href="#g78" x="29" y="192" fill="#000000"/>
<use href="#g74" x="37" y="192" fill="#000000"/>
<use href="#g3a" x="45" y="192" fill="#000000"/>
<use href="#g31" x="53" y="192" fill="#000000"/>
<use href="#g30" x="61" y="192" fill="#000000"/>
<use href="#g30" x="69" y="192" fill="#000000"/>
<use href="#g30" x="77" y="192" fill="#000000"/>
<use href="#g33" x="85" y="192" fill="#000000"/>
<use href="#g31" x="93" y="192" fill="#000000"/>
<use href="#g36" x="101" y="192" fill="#000000"/>
<use href="#g45" x="109" y="192" fill="#000000"/>
<use href="#g34" x="125" y="192" fill="#008000"/>
<use href="#g30" x="133" y="192" fill="#008000"/>
<use href="#g30" x="141" y="192" fill="#008000"/>
<use href="#g33" x="149" y="192" fill="#008000"/>
<use href="#g34" x="157" y="192" fill="#008000"/>
<use href="#g35" x="173" y="192" fill="#0000ff"/>
<use href="#g35" x="181" y="192" fill="#0000ff"/>
<use href="#g70" x="477" y="192" fill="#000080"/>
<use href="#g75" x="485" y="192" fill="#000080"/>
<use href="#g73" x="493" y="192" fill="#000080"/>
<use href="#g68" x="501" y="192" fill="#000080"/>
<use href="#g65" x="541" y="192" fill="#000080"/>
<use href="#g62" x="549" y="192" fill="#000080"/>
<use href="#g70" x="557" y="192" fill="#000080"/>
<use href="#g3b" x="669" y="192" fill="#0000ff"/>
<use href="#g5f" x="685" y="192" fill="#0000ff"/>
<use href="#g44" x="693" y="192" fill="#0000ff"/>
<use href="#g57" x="701" y="192" fill="#0000ff"/>
<use href="#g4f" x="709" y="192" fill="#0000ff"/>
<use href="#g52" x="717" y="192" fill="#0000ff"/>
<use href="#g44" x="725" y="192" fill="#0000ff"/>
<use href="#g2e" x="5" y="208" fill="#000000"/>
<use href="#g74" x="13" y="208" fill="#000000"/>
<use href="#g65" x="21" y="208" fill="#000000"/>
<use href="#g78" x="29" y="208" fill="#000000"/>
<use href="#g74" x="37" y="208" fill="#000000"/>
<use href="#g3a" x="45" y="208" fill="#000000"/>
<use href="#g31" x="53" y="208" fill="#000000"/>
<use href="#g30" x="61" y="208" fill="#000000"/>
<use href="#g30" x="69" y="208" fill="#000000"/>
<use href="#g30" x="77" y="208" fill="#000000"/>
<use href="#g33" x="85" y="208" fill="#000000"/>
<use href="#g31" x="93" y="208" fill="#000000"/>
<use href="#g36" x="101" y="208" fill="#000000"/>
<use href="#g46" x="109" y="208" fill="#000000"/>
<use href="#g34" x="125" y="208" fill="#008000"/>
<use href="#g30" x="133" y="208" fill="#008000"/>
<use href="#g30" x="141" y="208" fill="#008000"/>
<use href="#g33" x="149" y="208" fill="#008000"/>
<use href="#g38" x="157" y="208" fill="#008000"/>
<use href="#g46" x="173" y="208" fill="#0000ff"/>
<use href="#g46" x="181" y="208" fill="#0000ff"/>
<use href="#g31" x="197" y="208" fill="#0000ff"/>
<use href="#g35" x="205" y="208" fill="#0000ff"/>
<use href="#g32" x="221" y="208" fill="#0000ff"/>
<use href="#g30" x="229" y="208" fill="#0000ff"/>
<use href="#g44" x="245" y="208" fill="#0000ff"/>
<use href="#g39" x="253" y="208" fill="#0000ff"/>
<use href="#g30" x="269" y="208" fill="#0000ff"/>
<use href="#g30" x="277" y="208" fill="#0000ff"/>
<use href="#g31" x="293" y="208" fill="#0000ff"/>
<use href="#g30" x="301" y="208" fill="#0000ff"/>
<use href="#g63" x="477" y="208" fill="#000080"/>
<use href="#g61" x="485" y="208" fill="#000080"/>
<use href="#g6c" x="493" y="208" fill="#000080"/>
<use href="#g6c" x="501" y="208" fill="#000080"/>
<use href="#g71" x="541" y="208" fill="#0000ff"/>
<use href="#g57" x="549" y="208" fill="#0000ff"/>
<use href="#g72" x="557" y="208" fill="#0000ff"/>
<use href="#g69" x="565" y="208" fill="#0000ff"/>
<use href="#g74" x="573" y="208" fill="#0000ff"/>
<use href="#g65" x="581" y="208" fill="#0000ff"/>
<use href="#g46" x="589" y="208" fill="#0000ff"/>
<use href="#g69" x="597" y="208" fill="#0000ff"/>
<use href="#g6c" x="605" y="208" fill="#0000ff"/>
<use href="#g65" x="613" y="208" fill="#0000ff"/>
<use href="#g2e" x="5" y="224" fill="#000000"/>
<use href="#g74" x="13" y="224" fill="#000000"/>
<use href="#g65" x="21" y="224" fill="#000000"/>
<use href="#g78" x="29" y="224" fill="#000000"/>
<use href="#g74" x="37" y="224" fill="#000000"/>
<use href="#g3a" x="45" y="224" fill="#000000"/>
<use href="#g31" x="53" y="224" fill="#000000"/>
<use href="#g30" x="61" y="224" fill="#000000"/>
<use href="#g30" x="69" y="224" fill="#000000"/>
<use href="#g30" x="77" y="224" fill="#000000"/>
<use href="#g33" x="85" y="224" fill="#000000"/>
<use href="#g31" x="93" y="224" fill="#000000"/>
<use href="#g37" x="101" y="224" fill="#000000"/>
<use href="#g35" x="109" y="224" fill="#000000"/>
<use href="#g34" x="125" y="224" fill="#008000"/>
<use href="#g30" x="133" y="224" fill="#008000"/>
<use href="#g30" x="141" y="224" fill="#008000"/>
<use href="#g32" x="149" y="224" fill="#008000"/>
<use href="#g30" x="157" y="224" fill="#008000"/>
<use href="#g35" x="173" y="224" fill="#0000ff"/>
<use href="#g35" x="181" y="224" fill="#0000ff"/>
<use href="#g70" x="477" y="224" fill="#000080"/>
<use href="#g75" x="485" y="224" fill="#000080"/>
<use href="#g73" x="493" y="224" fill="#000080"/>
<use href="#g68" x="501" y="224" fill="#000080"/>
<use href="#g65" x="541" y="224" fill="#000080"/>
<use href="#g62" x="549" y="224" fill="#000080"/>
<use href="#g70" x="557" y="224" fill="#000080"/>
<use href="#g3b" x="669" y="224" fill="#0000ff"/>
<use href="#g68" x="685" y="224" fill="#0000ff"/>
<use href="#g46" x="693" y="224" fill="#0000ff"/>
<use href="#g69" x="701" y="224" fill="#0000ff"/>
<use href="#g6c" x="709" y="224" fill="#0000ff"/>
<use href="#g65" x="717" y="224" fill="#0000ff"/>
<use href="#g2e" x="5" y="240" fill="#000000"/>
<use href="#g74" x="13" y="240" fill="#000000"/>
<use href="#g65" x="21" y="240" fill="#000000"/>
<use href="#g78" x="29" y="240" fill="#000000"/>
<use href="#g74" x="37" y="240" fill="#000000"/>
<use href="#g3a" x="45" y="240" fill="#000000"/>
<use href="#g31" x="53" y="240" fill="#000000"/>
<use href="#g30" x="61" y="240" fill="#000000"/>
<use href="#g30" x="69" y="240" fill="#000000"/>
<use href="#g30" x="77" y="240" fill="#000000"/>
<use href="#g33" x="85" y="240" fill="#000000"/>
<use href="#g31" x="93" y="240" fill="#000000"/>
<use href="#g37" x="101" y="240" fill="#000000"/>
<use href="#g36" x="109" y="240" fill="#000000"/>
<use href="#g34" x="125" y="240" fill="#008000"/>
<use href="#g30" x="133" y="240" fill="#008000"/>
<use href="#g30" x="141" y="240" fill="#008000"/>
<use href="#g32" x="149" y="240" fill="#008000"/>
<use href="#g34" x="157" y="240" fill="#008000"/>
<use href="#g46" x="173" y="240" fill="#0000ff"/>
<use href="#g46" x="181" y="240" fill="#0000ff"/>
<use href="#g31" x="197" y="240" fill="#0000ff"/>
<use href="#g35" x="205" y="240" fill="#0000ff"/>
<use href="#g37" x="221" y="240" fill="#0000ff"/>
<use href="#g38" x="229" y="240" fill="#0000ff"/>
<use href="#g37" x="245" y="240" fill="#0000ff"/>
<use href="#g30" x="253" y="240" fill="#0000ff"/>
<use href="#g30" x="269" y="240" fill="#0000ff"/>
<use href="#g30" x="277" y="240" fill="#0000ff"/>
<use href="#g31" x="293" y="240" fill="#0000ff"/>
<use href="#g30" x="301" y="240" fill="#0000ff"/>
<use href="#g63" x="477" y="240" fill="#000080"/>
<use href="#g61" x="485" y="240" fill="#000080"/>
<use href="#g6c" x="493" y="240" fill="#000080"/>
<use href="#g6c" x="501" y="240" fill="#000080"/>
<use href="#g64" x="541" y="240" fill="#000080"/>
<use href="#g73" x="549" y="240" fill="#000080"/>
<use href="#g3a" x="557" y="240" fill="#000080"/>
<use href="#g46" x="565" y="240" fill="#ff00ff"/>
<use href="#g6c" x="573" y="240" fill="#ff00ff"/>
<use href="#g75" x="581" y="240" fill="#ff00ff"/>
<use href="#g73" x="589" y="240" fill="#ff00ff"/>
<use href="#g68" x="597" y="240" fill="#ff00ff"/>
<use href="#g46" x="605" y="240" fill="#ff00ff"/>
<use href="#g69" x="613" y="240" fill="#ff00ff"/>
<use href="#g6c" x="621" y="240" fill="#ff00ff"/>
<use href="#g65" x="629" y="240" fill="#ff00ff"/>
<use href="#g42" x="637" y="240" fill="#ff00ff"/>
<use href="#g75" x="645" y="240" fill="#ff00ff"/>
<use href="#g66" x="653" y="240" fill="#ff00ff"/>
<use href="#g66" x="661" y="240" fill="#ff00ff"/>
<use href="#g65" x="669" y="240" fill="#ff00ff"/>
<use href="#g72" x="677" y="240" fill="#ff00ff"/>
<use href="#g73" x="685" y="240" fill="#ff00ff"/>
<use href="#g2e" x="5" y="256" fill="#000000"/>
<use href="#g74" x="13" y="256" fill="#000000"/>
<use href="#g65" x="21" y="256" fill="#000000"/>
<use href="#g78" x="29" y="256" fill="#000000"/>
<use href="#g74" x="37" y="256" fill="#000000"/>
<use href="#g3a" x="45" y="256" fill="#000000"/>
<use href="#g31" x="53" y="256" fill="#000000"/>
<use href="#g30" x="61" y="256" fill="#000000"/>
<use href="#g30" x="69" y="256" fill="#000000"/>
<use href="#g30" x="77" y="256" fill="#000000"/>
<use href="#g33" x="85" y="256" fill="#000000"/>
<use href="#g31" x="93" y="256" fill="#000000"/>
<use href="#g37" x="101" y="256" fill="#000000"/>
<use href="#g43" x="109" y="256" fill="#000000"/>
<use href="#g34" x="125" y="256" fill="#008000"/>
<use href="#g30" x="133" y="256" fill="#008000"/>
<use href="#g30" x="141" y="256" fill="#008000"/>
<use href="#g32" x="149" y="256" fill="#008000"/>
<use href="#g30" x="157" y="256" fill="#008000"/>
<use href="#g36" x="173" y="256" fill="#0000ff"/>
<use href="#g41" x="181" y="256" fill="#0000ff"/>
<use href="#g30" x="197" y="256" fill="#0000ff"/>
<use href="#g30" x="205" y="256" fill="#0000ff"/>
<use href="#g70" x="477" y="256" fill="#000080"/>
<use href="#g75" x="485" y="256" fill="#000080"/>
<use href="#g73" x="493" y="256" fill="#000080"/>
<use href="#g68" x="501" y="256" fill="#000080"/>
<use href="#g30" x="541" y="256" fill="#008000"/>
<use href="#g3b" x="669" y="256" fill="#0000ff"/>
<use href="#g64" x="685" y="256" fill="#0000ff"/>
<use href="#g77" x="693" y="256" fill="#0000ff"/>
<use href="#g4d" x="701" y="256" fill="#0000ff"/>
<use href="#g6f" x="709" y="256" fill="#0000ff"/>
<use href="#g76" x="717" y="256" fill="#0000ff"/>
<use href="#g65" x="725" y="256" fill="#0000ff"/>
<use href="#g4d" x="733" y="256" fill="#0000ff"/>
<use href="#g65" x="741" y="256" fill="#0000ff"/>
<use href="#g74" x="749" y="256" fill="#0000ff"/>
<use href="#g68" x="757" y="256" fill="#0000ff"/>
<use href="#g6f" x="765" y="256" fill="#0000ff"/>
<use href="#g64" x="773" y="256" fill="#0000ff"/>
<use href="#g2e" x="5" y="272" fill="#000000"/>
<use href="#g74" x="13" y="272" fill="#000000"/>
<use href="#g65" x="21" y="272" fill="#000000"/>
<use href="#g78" x="29" y="272" fill="#000000"/>
<use href="#g74" x="37" y="272" fill="#000000"/>
<use href="#g3a" x="45" y="272" fill="#000000"/>
<use href="#g31" x="53" y="272" fill="#000000"/>
<use href="#g30" x="61" y="272" fill="#000000"/>
<use href="#g30" x="69" y="272" fill="#000000"/>
<use href="#g30" x="77" y="272" fill="#000000"/>
<use href="#g33" x="85" y="272" fill="#000000"/>
<use href="#g31" x="93" y="272" fill="#000000"/>
<use href="#g37" x="101" y="272" fill="#000000"/>
<use href="#g45" x="109" y="272" fill="#000000"/>
<use href="#g34" x="125" y="272" fill="#008000"/>
<use href="#g30" x="133" y="272" fill="#008000"/>
<use href="#g30" x="141" y="272" fill="#008000"/>
<use href="#g32" x="149" y="272" fill="#008000"/>
<use href="#g34" x="157" y="272" fill="#008000"/>
<use href="#g36" x="173" y="272" fill="#0000ff"/>
<use href="#g41" x="181" y="272" fill="#0000ff"/>
<use href="#g30" x="197" y="272" fill="#0000ff"/>
<use href="#g30" x="205" y="272" fill="#0000ff"/>
<use href="#g70" x="477" y="272" fill="#000080"/>
<use href="#g75" x="485" y="272" fill="#000080"/>
<use href="#g73" x="493" y="272" fill="#000080"/>
<use href="#g68" x="501" y="272" fill="#000080"/>
<use href="#g30" x="541" y="272" fill="#008000"/>
<use href="#g3b" x="669" y="272" fill="#0000ff"/>
<use href="#g6c" x="685" y="272" fill="#0000ff"/>
<use href="#g70" x="693" y="272" fill="#0000ff"/>
<use href="#g44" x="701" y="272" fill="#0000ff"/>
<use href="#g69" x="709" y="272" fill="#0000ff"/>
<use href="#g73" x="717" y="272" fill="#0000ff"/>
<use href="#g74" x="725" y="272" fill="#0000ff"/>
<use href="#g61" x="733" y="272" fill="#0000ff"/>
<use href="#g6e" x="741" y="272" fill="#0000ff"/>
<use href="#g63" x="749" y="272" fill="#0000ff"/>
<use href="#g65" x="757" y="272" fill="#0000ff"/>
<use href="#g54" x="765" y="272" fill="#0000ff"/>
<use href="#g6f" x="773" y="272" fill="#0000ff"/>
<use href="#g4d" x="781" y="272" fill="#0000ff"/>
<use href="#g6f" x="789" y="272" fill="#0000ff"/>
<use href="#g76" x="797" y="272" fill="#0000ff"/>
<use href="#g65" x="805" y="272" fill="#0000ff"/>
<use href="#g48" x="813" y="272" fill="#0000ff"/>
<use href="#g69" x="821" y="272" fill="#0000ff"/>
<use href="#g67" x="829" y="272" fill="#0000ff"/>
<use href="#g68" x="837" y="272" fill="#0000ff"/>
<use href="#g2e" x="5" y="288" fill="#000000"/>
<use href="#g74" x="13" y="288" fill="#000000"/>
<use href="#g65" x="21" y="288" fill="#000000"/>
<use href="#g78" x="29" y="288" fill="#000000"/>
<use href="#g74" x="37" y="288" fill="#000000"/>
<use href="#g3a" x="45" y="288" fill="#000000"/>
<use href="#g31" x="53" y="288" fill="#000000"/>
<use href="#g30" x="61" y="288" fill="#000000"/>
<use href="#g30" x="69" y="288" fill="#000000"/>
<use href="#g30" x="77" y="288" fill="#000000"/>
<use href="#g33" x="85" y="288" fill="#000000"/>
<use href="#g31" x="93" y="288" fill="#000000"/>
<use href="#g38" x="101" y="288" fill="#000000"/>
<use href="#g30" x="109" y="288" fill="#000000"/>
<use href="#g34" x="125" y="288" fill="#008000"/>
<use href="#g30" x="133" y="288" fill="#008000"/>
<use href="#g30" x="141" y="288" fill="#008000"/>
<use href="#g32" x="149" y="288" fill="#008000"/>
<use href="#g38" x="157" y="288" fill="#008000"/>
<use href="#g36" x="173" y="288" fill="#0000ff"/>
<use href="#g41" x="181" y="288" fill="#0000ff"/>
<use href="#g30" x="197" y="288" fill="#0000ff"/>
<use href="#g30" x="205" y="288" fill="#0000ff"/>
<use href="#g70" x="477" y="288" fill="#000080"/>
<use href="#g75" x="485" y="288" fill="#000080"/>
<use href="#g73" x="493" y="288" fill="#000080"/>
<use href="#g68" x="501" y="288" fill="#000080"/>
<use href="#g30" x="541" y="288" fill="#008000"/>
<use href="#g3b" x="669" y="288" fill="#0000ff"/>
<use href="#g6c" x="685" y="288" fill="#0000ff"/>
<use href="#g44" x="693" y="288" fill="#0000ff"/>
<use href="#g69" x="701" y="288" fill="#0000ff"/>
<use href="#g73" x="709" y="288" fill="#0000ff"/>
<use href="#g74" x="717" y="288" fill="#0000ff"/>
<use href="#g61" x="725" y="288" fill="#0000ff"/>
<use href="#g6e" x="733" y="288" fill="#0000ff"/>
<use href="#g63" x="741" y="288" fill="#0000ff"/>
<use href="#g65" x="749" y="288" fill="#0000ff"/>
<use href="#g54" x="757" y="288" fill="#0000ff"/>
<use href="#g6f" x="765" y="288" fill="#0000ff"/>
<use href="#g4d" x="773" y="288" fill="#0000ff"/>
<use href="#g6f" x="781" y="288" fill="#0000ff"/>
<use href="#g76" x="789" y="288" fill="#0000ff"/>
<use href="#g65" x="797" y="288" fill="#0000ff"/>
<use href="#g2e" x="5" y="304" fill="#000000"/>
<use href="#g74" x="13" y="304" fill="#000000"/>
<use href="#g65" x="21" y="304" fill="#000000"/>
<use href="#g78" x="29" y="304" fill="#000000"/>
<use href="#g74" x="37" y="304" fill="#000000"/>
<use href="#g3a" x="45" y="304" fill="#000000"/>
<use href="#g31" x="53" y="304" fill="#000000"/>
<use href="#g30" x="61" y="304" fill="#000000"/>
<use href="#g30" x="69" y="304" fill="#000000"/>
<use href="#g30" x="77" y="304" fill="#000000"/>
<use href="#g33" x="85" y="304" fill="#000000"/>
<use href="#g31" x="93" y="304" fill="#000000"/>
<use href="#g38" x="101" y="304" fill="#000000"/>
<use href="#g32" x="109" y="304" fill="#000000"/>
<use href="#g34" x="125" y="304" fill="#008000"/>
<use href="#g30" x="133" y="304" fill="#008000"/>
<use href="#g30" x="141" y="304" fill="#008000"/>
<use href="#g32" x="149" y="304" fill="#008000"/>
<use href="#g43" x="157" y="304" fill="#008000"/>
<use href="#g35" x="173" y="304" fill="#0000ff"/>
<use href="#g35" x="181" y="304" fill="#0000ff"/>
<use href="#g70" x="477" y="304" fill="#000080"/>
<use href="#g75" x="485" y="304" fill="#000080"/>
<use href="#g73" x="493" y="304" fill="#000080"/>
<use href="#g68" x="501" y="304" fill="#000080"/>
<use href="#g65" x="541" y="304" fill="#000080"/>
<use href="#g62" x="549" y="304" fill="#000080"/>
<use href="#g70" x="557" y="304" fill="#000080"/>
<use href="#g3b" x="669" y="304" fill="#0000ff"/>
<use href="#g68" x="685" y="304" fill="#0000ff"/>
<use href="#g46" x="693" y="304" fill="#0000ff"/>
<use href="#g69" x="701" y="304" fill="#0000ff"/>
<use href="#g6c" x="709" y="304" fill="#0000ff"/>
<use href="#g65" x="717" y="304" fill="#0000ff"/>
<use href="#g2e" x="5" y="320" fill="#000000"/>
<use href="#g74" x="13" y="320" fill="#000000"/>
<use href="#g65" x="21" y="320" fill="#000000"/>
<use href="#g78" x="29" y="320" fill="#000000"/>
<use href="#g74" x="37" y="320" fill="#000000"/>
<use href="#g3a" x="45" y="320" fill="#000000"/>
<use href="#g31" x="53" y="320" fill="#000000"/>
<use href="#g30" x="61" y="320" fill="#000000"/>
<use href="#g30" x="69" y="320" fill="#000000"/>
<use href="#g30" x="77" y="320" fill="#000000"/>
<use href="#g33" x="85" y="320" fill="#000000"/>
<use href="#g31" x="93" y="320" fill="#000000"/>
<use href="#g38" x="101" y="320" fill="#000000"/>
<use href="#g33" x="109" y="320" fill="#000000"/>
<use href="#g34" x="125" y="320" fill="#008000"/>
<use href="#g30" x="133" y="320" fill="#008000"/>
<use href="#g30" x="141" y="320" fill="#008000"/>
<use href="#g33" x="149" y="320" fill="#008000"/>
<use href="#g30" x="157" y="320" fill="#008000"/>
<use href="#g46" x="173" y="320" fill="#0000ff"/>
<use href="#g46" x="181" y="320" fill="#0000ff"/>
<use href="#g44" x="197" y="320" fill="#0000ff"/>
<use href="#g37" x="205" y="320" fill="#0000ff"/>
<use href="#g63" x="477" y="320" fill="#000080"/>
<use href="#g61" x="485" y="320" fill="#000080"/>
<use href="#g6c" x="493" y="320" fill="#000080"/>
<use href="#g6c" x="501" y="320" fill="#000080"/>
<use href="#g65" x="541" y="320" fill="#000080"/>
<use href="#g64" x="549" y="320" fill="#000080"/>
<use href="#g69" x="557" y="320" fill="#000080"/>
<use href="#g3b" x="573" y="320" fill="#808080"/>
<use href="#g53" x="589" y="320" fill="#ff00ff"/>
<use href="#g65" x="597" y="320" fill="#ff00ff"/>
<use href="#g74" x="605" y="320" fill="#ff00ff"/>
<use href="#g46" x="613" y="320" fill="#ff00ff"/>
<use href="#g69" x="621" y="320" fill="#ff00ff"/>
<use href="#g6c" x="629" y="320" fill="#ff00ff"/>
<use href="#g65" x="637" y="320" fill="#ff00ff"/>
<use href="#g50" x="645" y="320" fill="#ff00ff"/>
<use href="#g6f" x="653" y="320" fill="#ff00ff"/>
<use href="#g69" x="661" y="320" fill="#ff00ff"/>
<use href="#g6e" x="669" y="320" fill="#ff00ff"/>
<use href="#g74" x="677" y="320" fill="#ff00ff"/>
<use href="#g65" x="685" y="320" fill="#ff00ff"/>
<use href="#g72" x="693" y="320" fill="#ff00ff"/>
<use href="#g2e" x="5" y="336" fill="#000000"/>
<use href="#g74" x="13" y="336" fill="#000000"/>
<use href="#g65" x="21" y="336" fill="#000000"/>
<use href="#g78" x="29" y="336" fill="#000000"/>
<use href="#g74" x="37" y="336" fill="#000000"/>
<use href="#g3a" x="45" y="336" fill="#000000"/>
<use href="#g31" x="53" y="336" fill="#000000"/>
<use href="#g30" x="61" y="336" fill="#000000"/>
<use href="#g30" x="69" y="336" fill="#000000"/>
<use href="#g30" x="77" y="336" fill="#000000"/>
<use href="#g33" x="85" y="336" fill="#000000"/>
<use href="#g31" x="93" y="336" fill="#000000"/>
<use href="#g38" x="101" y="336" fill="#000000"/>
<use href="#g35" x="109" y="336" fill="#000000"/>
<use href="#g34" x="125" y="336" fill="#008000"/>
<use href="#g30" x="133" y="336" fill="#008000"/>
<use href="#g30" x="141" y="336" fill="#008000"/>
<use href="#g32" x="149" y="336" fill="#008000"/>
<use href="#g30" x="157" y="336" fill="#008000"/>
<use href="#g38" x="173" y="336" fill="#0000ff"/>
<use href="#g42" x="181" y="336" fill="#0000ff"/>
<use href="#g34" x="197" y="336" fill="#0000ff"/>
<use href="#g34" x="205" y="336" fill="#0000ff"/>
<use href="#g32" x="221" y="336" fill="#0000ff"/>
<use href="#g34" x="229" y="336" fill="#0000ff"/>
<use href="#g31" x="245" y="336" fill="#0000ff"/>
<use href="#g34" x="253" y="336" fill="#0000ff"/>
<use href="#g6d" x="477" y="336" fill="#000080"/>
<use href="#g6f" x="485" y="336" fill="#000080"/>
<use href="#g76" x="493" y="336" fill="#000080"/>
<use href="#g65" x="541" y="336" fill="#000080"/>
<use href="#g61" x="549" y="336" fill="#000080"/>
<use href="#g78" x="557" y="336" fill="#000080"/>
<use href="#g2c" x="565" y="336" fill="#000080"/>
<use href="#g5b" x="581" y="336" fill="#000080"/>
<use href="#g65" x="589" y="336" fill="#000080"/>
<use href="#g73" x="597" y="336" fill="#000080"/>
<use href="#g70" x="605" y="336" fill="#000080"/>
<use href="#g2b" x="613" y="336" fill="#000080"/>
<use href="#g34" x="621" y="336" fill="#008000"/>
<use href="#g30" x="629" y="336" fill="#008000"/>
<use href="#g30" x="637" y="336" fill="#008000"/>
<use href="#g32" x="645" y="336" fill="#008000"/>
<use href="#g30" x="653" y="336" fill="#008000"/>
<use href="#g68" x="661" y="336" fill="#008000"/>
<use href="#g2b" x="669" y="336" fill="#000080"/>
<use href="#g76" x="677" y="336" fill="#008000"/>
<use href="#g61" x="685" y="336" fill="#008000"/>
<use href="#g72" x="693" y="336" fill="#008000"/>
<use href="#g5f" x="701" y="336" fill="#008000"/>
<use href="#g34" x="709" y="336" fill="#008000"/>
<use href="#g30" x="717" y="336" fill="#008000"/>
<use href="#g30" x="725" y="336" fill="#008000"/>
<use href="#g30" x="733" y="336" fill="#008000"/>
<use href="#g43" x="741" y="336" fill="#008000"/>
<use href="#g5d" x="749" y="336" fill="#000080"/>
<use href="#g2e" x="5" y="352" fill="#000000"/>
<use href="#g74" x="13" y="352" fill="#000000"/>
<use href="#g65" x="21" y="352" fill="#000000"/>
<use href="#g78" x="29" y="352" fill="#000000"/>
<use href="#g74" x="37" y="352" fill="#000000"/>
<use href="#g3a" x="45" y="352" fill="#000000"/>
<use href="#g31" x="53" y="352" fill="#000000"/>
<use href="#g30" x="61" y="352" fill="#000000"/>
<use href="#g30" x="69" y="352" fill="#000000"/>
<use href="#g30" x="77" y="352" fill="#000000"/>
<use href="#g33" x="85" y="352" fill="#000000"/>
<use href="#g31" x="93" y="352" fill="#000000"/>
<use href="#g38" x="101" y="352" fill="#000000"/>
<use href="#g39" x="109" y="352" fill="#000000"/>
<use href="#g34" x="125" y="352" fill="#008000"/>
<use href="#g30" x="133" y="352" fill="#008000"/>
<use href="#g30" x="141" y="352" fill="#008000"/>
<use href="#g32" x="149" y="352" fill="#008000"/>
<use href="#g30" x="157" y="352" fill="#008000"/>
<use href="#g38" x="173" y="352" fill="#0000ff"/>
<use href="#g42" x="181" y="352" fill="#0000ff"/>
<use href="#g35" x="197" y="352" fill="#0000ff"/>
<use href="#g34" x="205" y="352" fill="#0000ff"/>
<use href="#g32" x="221" y="352" fill="#0000ff"/>
<use href="#g34" x="229" y="352" fill="#0000ff"/>
<use href="#g31" x="245" y="352" fill="#0000ff"/>
<use href="#g30" x="253" y="352" fill="#0000ff"/>
<use href="#g6d" x="477" y="352" fill="#000080"/>
<use href="#g6f" x="485" y="352" fill="#000080"/>
<use href="#g76" x="493" y="352" fill="#000080"/>
<use href="#g65" x="541" y="352" fill="#000080"/>
<use href="#g64" x="549" y="352" fill="#000080"/>
<use href="#g78" x="557" y="352" fill="#000080"/>
<use href="#g2c" x="565" y="352" fill="#000080"/>
<use href="#g64" x="581" y="352" fill="#000080"/>
<use href="#g77" x="589" y="352" fill="#000080"/>
<use href="#g6f" x="597" y="352" fill="#000080"/>
<use href="#g72" x="605" y="352" fill="#000080"/>
<use href="#g64" x="613" y="352" fill="#000080"/>
<use href="#g70" x="629" y="352" fill="#000080"/>
<use href="#g74" x="637" y="352" fill="#000080"/>
<use href="#g72" x="645" y="352" fill="#000080"/>
<use href="#g5b" x="661" y="352" fill="#000080"/>
<use href="#g65" x="669" y="352" fill="#000080"/>
<use href="#g73" x="677" y="352" fill="#000080"/>
<use href="#g70" x="685" y="352" fill="#000080"/>
<use href="#g2b" x="693" y="352" fill="#000080"/>
<use href="#g34" x="701" y="352" fill="#008000"/>
<use href="#g30" x="709" y="352" fill="#008000"/>
<use href="#g30" x="717" y="352" fill="#008000"/>
<use href="#g32" x="725" y="352" fill="#008000"/>
<use href="#g30" x="733" y="352" fill="#008000"/>
<use href="#g68" x="741" y="352" fill="#008000"/>
<use href="#g2b" x="749" y="352" fill="#000080"/>
<use href="#g46" x="757" y="352" fill="#008000"/>
<use href="#g69" x="765" y="352" fill="#008000"/>
<use href="#g6c" x="773" y="352" fill="#008000"/>
<use href="#g65" x="781" y="352" fill="#008000"/>
<use href="#g53" x="789" y="352" fill="#008000"/>
<use href="#g69" x="797" y="352" fill="#008000"/>
<use href="#g7a" x="805" y="352" fill="#008000"/>
<use href="#g65" x="813" y="352" fill="#008000"/>
<use href="#g2b" x="821" y="352" fill="#000080"/>
<use href="#g34" x="829" y="352" fill="#008000"/>
<use href="#g5d" x="837" y="352" fill="#000080"/>
<use href="#g2e" x="5" y="368" fill="#000000"/>
<use href="#g74" x="13" y="368" fill="#000000"/>
<use href="#g65" x="21" y="368" fill="#000000"/>
<use href="#g78" x="29" y="368" fill="#000000"/>
<use href="#g74" x="37" y="368" fill="#000000"/>
<use href="#g3a" x="45" y="368" fill="#000000"/>
<use href="#g31" x="53" y="368" fill="#000000"/>
<use href="#g30" x="61" y="368" fill="#000000"/>
<use href="#g30" x="69" y="368" fill="#000000"/>
<use href="#g30" x="77" y="368" fill="#000000"/>
<use href="#g33" x="85" y="368" fill="#000000"/>
<use href="#g31" x="93" y="368" fill="#000000"/>
<use href="#g38" x="101" y="368" fill="#000000"/>
<use href="#g44" x="109" y="368" fill="#000000"/>
<use href="#g34" x="125" y="368" fill="#008000"/>
<use href="#g30" x="133" y="368" fill="#008000"/>
<use href="#g30" x="141" y="368" fill="#008000"/>
<use href="#g32" x="149" y="368" fill="#008000"/>
<use href="#g30" x="157" y="368" fill="#008000"/>
<use href="#g33" x="173" y="368" fill="#0000ff"/>
<use href="#g33" x="181" y="368" fill="#0000ff"/>
<use href="#g46" x="197" y="368" fill="#0000ff"/>
<use href="#g36" x="205" y="368" fill="#0000ff"/>
<use href="#g78" x="477" y="368" fill="#000080"/>
<use href="#g6f" x="485" y="368" fill="#000080"/>
<use href="#g72" x="493" y="368" fill="#000080"/>
<use href="#g65" x="541" y="368" fill="#000080"/>
<use href="#g73" x="549" y="368" fill="#000080"/>
<use href="#g69" x="557" y="368" fill="#000080"/>
<use href="#g2c" x="565" y="368" fill="#000080"/>
<use href="#g65" x="581" y="368" fill="#000080"/>
<use href="#g73" x="589" y="368" fill="#000080"/>
<use href="#g69" x="597" y="368" fill="#000080"/>
<use href="#g2e" x="5" y="384" fill="#000000"/>
<use href="#g74" x="13" y="384" fill="#000000"/>
<use href="#g65" x="21" y="384" fill="#000000"/>
<use href="#g78" x="29" y="384" fill="#000000"/>
<use href="#g74" x="37" y="384" fill="#000000"/>
<use href="#g3a" x="45" y="384" fill="#000000"/>
<use href="#g31" x="53" y="384" fill="#000000"/>
<use href="#g30" x="61" y="384" fill="#000000"/>
<use href="#g30" x="69" y="384" fill="#000000"/>
<use href="#g30" x="77" y="384" fill="#000000"/>
<use href="#g33" x="85" y="384" fill="#000000"/>
<use href="#g31" x="93" y="384" fill="#000000"/>
<use href="#g38" x="101" y="384" fill="#000000"/>
<use href="#g46" x="109" y="384" fill="#000000"/>
<use href="#g34" x="125" y="384" fill="#008000"/>
<use href="#g30" x="133" y="384" fill="#008000"/>
<use href="#g30" x="141" y="384" fill="#008000"/>
<use href="#g32" x="149" y="384" fill="#008000"/>
<use href="#g30" x="157" y="384" fill="#008000"/>
<use href="#g33" x="173" y="384" fill="#0000ff"/>
<use href="#g33" x="181" y="384" fill="#0000ff"/>
<use href="#g46" x="197" y="384" fill="#0000ff"/>
<use href="#g46" x="205" y="384" fill="#0000ff"/>
<use href="#g78" x="477" y="384" fill="#000080"/>
<use href="#g6f" x="485" y="384" fill="#000080"/>
<use href="#g72" x="493" y="384" fill="#000080"/>
<use href="#g65" x="541" y="384" fill="#000080"/>
<use href="#g64" x="549" y="384" fill="#000080"/>
<use href="#g69" x="557" y="384" fill="#000080"/>
<use href="#g2c" x="565" y="384" fill="#000080"/>
<use href="#g65" x="581" y="384" fill="#000080"/>
<use href="#g64" x="589" y="384" fill="#000080"/>
<use href="#g69" x="597" y="384" fill="#000080"/>
<use href="#g2e" x="5" y="400" fill="#000000"/>
<use href="#g74" x="13" y="400" fill="#000000"/>
<use href="#g65" x="21" y="400" fill="#000000"/>
<use href="#g78" x="29" y="400" fill="#000000"/>
<use href="#g74" x="37" y="400" fill="#000000"/>
<use href="#g3a" x="45" y="400" fill="#000000"/>
<use href="#g31" x="53" y="400" fill="#000000"/>
<use href="#g30" x="61" y="400" fill="#000000"/>
<use href="#g30" x="69" y="400" fill="#000000"/>
<use href="#g30" x="77" y="400" fill="#000000"/>
<use href="#g33" x="85" y="400" fill="#000000"/>
<use href="#g31" x="93" y="400" fill="#000000"/>
<use href="#g39" x="101" y="400" fill="#000000"/>
<use href="#g31" x="109" y="400" fill="#000000"/>
<use href="#g34" x="125" y="400" fill="#008000"/>
<use href="#g30" x="133" y="400" fill="#008000"/>
<use href="#g30" x="141" y="400" fill="#008000"/>
<use href="#g32" x="149" y="400" fill="#008000"/>
<use href="#g30" x="157" y="400" fill="#008000"/>
<use href="#g38" x="173" y="400" fill="#0000ff"/>
<use href="#g35" x="181" y="400" fill="#0000ff"/>
<use href="#g43" x="197" y="400" fill="#0000ff"/>
<use href="#g30" x="205" y="400" fill="#0000ff"/>
<use href="#g74" x="477" y="400" fill="#000080"/>
<use href="#g65" x="485" y="400" fill="#000080"/>
<use href="#g73" x="493" y="400" fill="#000080"/>
<use href="#g74" x="501" y="400" fill="#000080"/>
<use href="#g65" x="541" y="400" fill="#000080"/>
<use href="#g61" x="549" y="400" fill="#000080"/>
<use href="#g78" x="557" y="400" fill="#000080"/>
<use href="#g2c" x="565" y="400" fill="#000080"/>
<use href="#g65" x="581" y="400" fill="#000080"/>
<use href="#g61" x="589" y="400" fill="#000080"/>
<use href="#g78" x="597" y="400" fill="#000080"/>
<use href="#g2e" x="5" y="416" fill="#000000"/>
<use href="#g74" x="13" y="416" fill="#000000"/>
<use href="#g65" x="21" y="416" fill="#000000"/>
<use href="#g78" x="29" y="416" fill="#000000"/>
<use href="#g74" x="37" y="416" fill="#000000"/>
<use href="#g3a" x="45" y="416" fill="#000000"/>
<use href="#g31" x="53" y="416" fill="#000000"/>
<use href="#g30" x="61" y="416" fill="#000000"/>
<use href="#g30" x="69" y="416" fill="#000000"/>
<use href="#g30" x="77" y="416" fill="#000000"/>
<use href="#g33" x="85" y="416" fill="#000000"/>
<use href="#g31" x="93" y="416" fill="#000000"/>
<use href="#g39" x="101" y="416" fill="#000000"/>
<use href="#g33" x="109" y="416" fill="#000000"/>
<use href="#g34" x="125" y="416" fill="#008000"/>
<use href="#g30" x="133" y="416" fill="#008000"/>
<use href="#g30" x="141" y="416" fill="#008000"/>
<use href="#g32" x="149" y="416" fill="#008000"/>
<use href="#g30" x="157" y="416" fill="#008000"/>
<use href="#g37" x="173" y="416" fill="#0000ff"/>
<use href="#g43" x="181" y="416" fill="#0000ff"/>
<use href="#g35" x="197" y="416" fill="#0000ff"/>
<use href="#g34" x="205" y="416" fill="#0000ff"/>
<use href="#g6a" x="477" y="416" fill="#000080"/>
<use href="#g6c" x="485" y="416" fill="#000080"/>
<use href="#g73" x="541" y="416" fill="#000080"/>
<use href="#g68" x="549" y="416" fill="#000080"/>
<use href="#g6f" x="557" y="416" fill="#000080"/>
<use href="#g72" x="565" y="416" fill="#000080"/>
<use href="#g74" x="573" y="416" fill="#000080"/>
<use href="#g6c" x="589" y="416" fill="#000080"/>
<use href="#g6f" x="597" y="416" fill="#000080"/>
<use href="#g63" x="605" y="416" fill="#000080"/>
<use href="#g5f" x="613" y="416" fill="#000080"/>
<use href="#g31" x="621" y="416" fill="#000080"/>
<use href="#g30" x="629" y="416" fill="#000080"/>
<use href="#g30" x="637" y="416" fill="#000080"/>
<use href="#g30" x="645" y="416" fill="#000080"/>
<use href="#g33" x="653" y="416" fill="#000080"/>
<use href="#g31" x="661" y="416" fill="#000080"/>
<use href="#g45" x="669" y="416" fill="#000080"/>
<use href="#g39" x="677" y="416" fill="#000080"/>
<use href="#g2e" x="5" y="432" fill="#000000"/>
<use href="#g74" x="13" y="432" fill="#000000"/>
<use href="#g65" x="21" y="432" fill="#000000"/>
<use href="#g78" x="29" y="432" fill="#000000"/>
<use href="#g74" x="37" y="432" fill="#000000"/>
<use href="#g3a" x="45" y="432" fill="#000000"/>
<use href="#g31" x="53" y="432" fill="#000000"/>
<use href="#g30" x="61" y="432" fill="#000000"/>
<use href="#g30" x="69" y="432" fill="#000000"/>
<use href="#g30" x="77" y="432" fill="#000000"/>
<use href="#g33" x="85" y="432" fill="#000000"/>
<use href="#g31" x="93" y="432" fill="#000000"/>
<use href="#g39" x="101" y="432" fill="#000000"/>
<use href="#g35" x="109" y="432" fill="#000000"/>
<use href="#g34" x="125" y="432" fill="#008000"/>
<use href="#g30" x="133" y="432" fill="#008000"/>
<use href="#g30" x="141" y="432" fill="#008000"/>
<use href="#g32" x="149" y="432" fill="#008000"/>
<use href="#g30" x="157" y="432" fill="#008000"/>
<use href="#g37" x="173" y="432" fill="#0000ff"/>
<use href="#g46" x="181" y="432" fill="#0000ff"/>
<use href="#g30" x="197" y="432" fill="#0000ff"/>
<use href="#g41" x="205" y="432" fill="#0000ff"/>
<use href="#g6a" x="477" y="432" fill="#000080"/>
<use href="#g67" x="485" y="432" fill="#000080"/>
<use href="#g73" x="541" y="432" fill="#000080"/>
<use href="#g68" x="549" y="432" fill="#000080"/>
<use href="#g6f" x="557" y="432" fill="#000080"/>
<use href="#g72" x="565" y="432" fill="#000080"/>
<use href="#g74" x="573" y="432" fill="#000080"/>
<use href="#g6c" x="589" y="432" fill="#000080"/>
<use href="#g6f" x="597" y="432" fill="#000080"/>
<use href="#g63" x="605" y="432" fill="#000080"/>
<use href="#g5f" x="613" y="432" fill="#000080"/>
<use href="#g31" x="621" y="432" fill="#000080"/>
<use href="#g30" x="629" y="432" fill="#000080"/>
<use href="#g30" x="637" y="432" fill="#000080"/>
<use href="#g30" x="645" y="432" fill="#000080"/>
<use href="#g33" x="653" y="432" fill="#000080"/>
<use href="#g31" x="661" y="432" fill="#000080"/>
<use href="#g41" x="669" y="432" fill="#000080"/>
<use href="#g31" x="677" y="432" fill="#000080"/>
<use href="#g2e" x="5" y="448" fill="#000000"/>
<use href="#g74" x="13" y="448" fill="#000000"/>
<use href="#g65" x="21" y="448" fill="#000000"/>
<use href="#g78" x="29" y="448" fill="#000000"/>
<use href="#g74" x="37" y="448" fill="#000000"/>
<use href="#g3a" x="45" y="448" fill="#000000"/>
<use href="#g31" x="53" y="448" fill="#000000"/>
<use href="#g30" x="61" y="448" fill="#000000"/>
<use href="#g30" x="69" y="448" fill="#000000"/>
<use href="#g30" x="77" y="448" fill="#000000"/>
<use href="#g33" x="85" y="448" fill="#000000"/>
<use href="#g31" x="93" y="448" fill="#000000"/>
<use href="#g39" x="101" y="448" fill="#000000"/>
<use href="#g37" x="109" y="448" fill="#000000"/>
<use href="#g34" x="125" y="448" fill="#008000"/>
<use href="#g30" x="133" y="448" fill="#008000"/>
<use href="#g30" x="141" y="448" fill="#008000"/>
<use href="#g32" x="149" y="448" fill="#008000"/>
<use href="#g30" x="157" y="448" fill="#008000"/>
<use href="#g38" x="173" y="448" fill="#0000ff"/>
<use href="#g35" x="181" y="448" fill="#0000ff"/>
<use href="#g44" x="197" y="448" fill="#0000ff"/>
<use href="#g32" x="205" y="448" fill="#0000ff"/>
<use href="#g74" x="477" y="448" fill="#000080"/>
<use href="#g65" x="485" y="448" fill="#000080"/>
<use href="#g73" x="493" y="448" fill="#000080"/>
<use href="#g74" x="501" y="448" fill="#000080"/>
<use href="#g65" x="541" y="448" fill="#000080"/>
<use href="#g64" x="549" y="448" fill="#000080"/>
<use href="#g78" x="557" y="448" fill="#000080"/>
<use href="#g2c" x="565" y="448" fill="#000080"/>
<use href="#g65" x="581" y="448" fill="#000080"/>
<use href="#g64" x="589" y="448" fill="#000080"/>
<use href="#g78" x="597" y="448" fill="#000080"/>
<use href="#g2e" x="5" y="464" fill="#000000"/>
<use href="#g74" x="13" y="464" fill="#000000"/>
<use href="#g65" x="21" y="464" fill="#000000"/>
<use href="#g78" x="29" y="464" fill="#000000"/>
<use href="#g74" x="37" y="464" fill="#000000"/>
<use href="#g3a" x="45" y="464" fill="#000000"/>
<use href="#g31" x="53" y="464" fill="#000000"/>
<use href="#g30" x="61" y="464" fill="#000000"/>
<use href="#g30" x="69" y="464" fill="#000000"/>
<use href="#g30" x="77" y="464" fill="#000000"/>
<use href="#g33" x="85" y="464" fill="#000000"/>
<use href="#g31" x="93" y="464" fill="#000000"/>
<use href="#g39" x="101" y="464" fill="#000000"/>
<use href="#g39" x="109" y="464" fill="#000000"/>
<use href="#g34" x="125" y="464" fill="#008000"/>
<use href="#g30" x="133" y="464" fill="#008000"/>
<use href="#g30" x="141" y="464" fill="#008000"/>
<use href="#g32" x="149" y="464" fill="#008000"/>
<use href="#g30" x="157" y="464" fill="#008000"/>
<use href="#g37" x="173" y="464" fill="#0000ff"/>
<use href="#g36" x="181" y="464" fill="#0000ff"/>
<use href="#g34" x="197" y="464" fill="#0000ff"/>
<use href="#g45" x="205" y="464" fill="#0000ff"/>
<use href="#g6a" x="477" y="464" fill="#000080"/>
<use href="#g62" x="485" y="464" fill="#000080"/>
<use href="#g65" x="493" y="464" fill="#000080"/>
<use href="#g73" x="541" y="464" fill="#000080"/>
<use href="#g68" x="549" y="464" fill="#000080"/>
<use href="#g6f" x="557" y="464" fill="#000080"/>
<use href="#g72" x="565" y="464" fill="#000080"/>
<use href="#g74" x="573" y="464" fill="#000080"/>
<use href="#g6c" x="589" y="464" fill="#000080"/>
<use href="#g6f" x="597" y="464" fill="#000080"/>
<use href="#g63" x="605" y="464" fill="#000080"/>
<use href="#g5f" x="613" y="464" fill="#000080"/>
<use href="#g31" x="621" y="464" fill="#000080"/>
<use href="#g30" x="629" y="464" fill="#000080"/>
<use href="#g30" x="637" y="464" fill="#000080"/>
<use href="#g30" x="645" y="464" fill="#000080"/>
<use href="#g33" x="653" y="464" fill="#000080"/>
<use href="#g31" x="661" y="464" fill="#000080"/>
<use href="#g45" x="669" y="464" fill="#000080"/>
<use href="#g39" x="677" y="464" fill="#000080"/>
<use href="#g2e" x="5" y="480" fill="#000000"/>
<use href="#g74" x="13" y="480" fill="#000000"/>
<use href="#g65" x="21" y="480" fill="#000000"/>
<use href="#g78" x="29" y="480" fill="#000000"/>
<use href="#g74" x="37" y="480" fill="#000000"/>
<use href="#g3a" x="45" y="480" fill="#000000"/>
<use href="#g31" x="53" y="480" fill="#000000"/>
<use href="#g30" x="61" y="480" fill="#000000"/>
<use href="#g30" x="69" y="480" fill="#000000"/>
<use href="#g30" x="77" y="480" fill="#000000"/>
<use href="#g33" x="85" y="480" fill="#000000"/>
<use href="#g31" x="93" y="480" fill="#000000"/>
<use href="#g39" x="101" y="480" fill="#000000"/>
<use href="#g42" x="109" y="480" fill="#000000"/>
<use href="#g34" x="125" y="480" fill="#008000"/>
<use href="#g30" x="133" y="480" fill="#008000"/>
<use href="#g30" x="141" y="480" fill="#008000"/>
<use href="#g32" x="149" y="480" fill="#008000"/>
<use href="#g30" x="157" y="480" fill="#008000"/>
<use href="#g45" x="173" y="480" fill="#0000ff"/>
<use href="#g42" x="181" y="480" fill="#0000ff"/>
<use href="#g30" x="197" y="480" fill="#0000ff"/>
<use href="#g34" x="205" y="480" fill="#0000ff"/>
<use href="#g6a" x="477" y="480" fill="#000080"/>
<use href="#g6d" x="485" y="480" fill="#000080"/>
<use href="#g70" x="493" y="480" fill="#000080"/>
<use href="#g73" x="541" y="480" fill="#000080"/>
<use href="#g68" x="549" y="480" fill="#000080"/>
<use href="#g6f" x="557" y="480" fill="#000080"/>
<use href="#g72" x="565" y="480" fill="#000080"/>
<use href="#g74" x="573" y="480" fill="#000080"/>
<use href="#g6c" x="589" y="480" fill="#000080"/>
<use href="#g6f" x="597" y="480" fill="#000080"/>
<use href="#g63" x="605" y="480" fill="#000080"/>
<use href="#g5f" x="613" y="480" fill="#000080"/>
<use href="#g31" x="621" y="480" fill="#000080"/>
<use href="#g30" x="629" y="480" fill="#000080"/>
<use href="#g30" x="637" y="480" fill="#000080"/>
<use href="#g30" x="645" y="480" fill="#000080"/>
<use href="#g33" x="653" y="480" fill="#000080"/>
<use href="#g31" x="661" y="480" fill="#000080"/>
<use href="#g41" x="669" y="480" fill="#000080"/>
<use href="#g31" x="677" y="480" fill="#000080"/>
<use href="#g2e" x="5" y="496" fill="#000000"/>
<use href="#g74" x="13" y="496" fill="#000000"/>
<use href="#g65" x="21" y="496" fill="#000000"/>
<use href="#g78" x="29" y="496" fill="#000000"/>
<use href="#g74" x="37" y="496" fill="#000000"/>
<use href="#g3a" x="45" y="496" fill="#000000"/>
<use href="#g31" x="53" y="496" fill="#000000"/>
<use href="#g30" x="61" y="496" fill="#000000"/>
<use href="#g30" x="69" y="496" fill="#000000"/>
<use href="#g30" x="77" y="496" fill="#000000"/>
<use href="#g33" x="85" y="496" fill="#000000"/>
<use href="#g31" x="93" y="496" fill="#000000"/>
<use href="#g39" x="101" y="496" fill="#000000"/>
<use href="#g44" x="109" y="496" fill="#000000"/>
<use href="#g3b" x="349" y="496" fill="#808080"/>
<use href="#g2d" x="365" y="496" fill="#808080"/>
<use href="#g2d" x="373" y="496" fill="#808080"/>
<use href="#g2d" x="381" y="496" fill="#808080"/>
<use href="#g2d" x="389" y="496" fill="#808080"/>
<use href="#g2d" x="397" y="496" fill="#808080"/>
<use href="#g2d" x="405" y="496" fill="#808080"/>
<use href="#g2d" x="413" y="496" fill="#808080"/>
<use href="#g2d" x="421" y="496" fill="#808080"/>
<use href="#g2d" x="429" y="496" fill="#808080"/>
<use href="#g2d" x="437" y="496" fill="#808080"/>
<use href="#g2d" x="445" y="496" fill="#808080"/>
<use href="#g2d" x="453" y="496" fill="#808080"/>
<use href="#g2d" x="461" y="496" fill="#808080"/>
<use href="#g2d" x="469" y="496" fill="#808080"/>
<use href="#g2d" x="477" y="496" fill="#808080"/>
<use href="#g2d" x="485" y="496" fill="#808080"/>
<use href="#g2d" x="493" y="496" fill="#808080"/>
<use href="#g2d" x="501" y="496" fill="#808080"/>
<use href="#g2d" x="509" y="496" fill="#808080"/>
<use href="#g2d" x="517" y="496" fill="#808080"/>
<use href="#g2d" x="525" y="496" fill="#808080"/>
<use href="#g2d" x="533" y="496" fill="#808080"/>
<use href="#g2d" x="541" y="496" fill="#808080"/>
<use href="#g2d" x="549" y="496" fill="#808080"/>
<use href="#g2d" x="557" y="496" fill="#808080"/>
<use href="#g2d" x="565" y="496" fill="#808080"/>
<use href="#g2d" x="573" y="496" fill="#808080"/>
<use href="#g2d" x="581" y="496" fill="#808080"/>
<use href="#g2d" x="589" y="496" fill="#808080"/>
<use href="#g2d" x="597" y="496" fill="#808080"/>
<use href="#g2d" x="605" y="496" fill="#808080"/>
<use href="#g2d" x="613" y="496" fill="#808080"/>
<use href="#g2d" x="621" y="496" fill="#808080"/>
<use href="#g2d" x="629" y="496" fill="#808080"/>
<use href="#g2d" x="637" y="496" fill="#808080"/>
<use href="#g2d" x="645" y="496" fill="#808080"/>
<use href="#g2d" x="653" y="496" fill="#808080"/>
<use href="#g2d" x="661" y="496" fill="#808080"/>
<use href="#g2d" x="669" y="496" fill="#808080"/>
<use href="#g2d" x="677" y="496" fill="#808080"/>
<use href="#g2d" x="685" y="496" fill="#808080"/>
<use href="#g2d" x="693" y="496" fill="#808080"/>
<use href="#g2d" x="701" y="496" fill="#808080"/>
<use href="#g2d" x="709" y="496" fill="#808080"/>
<use href="#g2d" x="717" y="496" fill="#808080"/>
<use href="#g2d" x="725" y="496" fill="#808080"/>
<use href="#g2d" x="733" y="496" fill="#808080"/>
<use href="#g2d" x="741" y="496" fill="#808080"/>
<use href="#g2d" x="749" y="496" fill="#808080"/>
<use href="#g2d" x="757" y="496" fill="#808080"/>
<use href="#g2d" x="765" y="496" fill="#808080"/>
<use href="#g2d" x="773" y="496" fill="#808080"/>
<use href="#g2d" x="781" y="496" fill="#808080"/>
<use href="#g2d" x="789" y="496" fill="#808080"/>
<use href="#g2d" x="797" y="496" fill="#808080"/>
<use href="#g2d" x="805" y="496" fill="#808080"/>
<use href="#g2d" x="813" y="496" fill="#808080"/>
<use href="#g2d" x="821" y="496" fill="#808080"/>
<use href="#g2d" x="829" y="496" fill="#808080"/>
<use href="#g2d" x="837" y="496" fill="#808080"/>
<use href="#g2d" x="845" y="496" fill="#808080"/>
<use href="#g2d" x="853" y="496" fill="#808080"/>
<use href="#g2d" x="861" y="496" fill="#808080"/>
<use href="#g2d" x="869" y="496" fill="#808080"/>
<use href="#g2d" x="877" y="496" fill="#808080"/>
<use href="#g2d" x="885" y="496" fill="#808080"/>
<use href="#g2d" x="893" y="496" fill="#808080"/>
<use href="#g2d" x="901" y="496" fill="#808080"/>
<use href="#g2d" x="909" y="496" fill="#808080"/>
<use href="#g2d" x="917" y="496" fill="#808080"/>
<use href="#g2d" x="925" y="496" fill="#808080"/>
<use href="#g2d" x="933" y="496" fill="#808080"/>
<use href="#g2d" x="941" y="496" fill="#808080"/>
<use href="#g2d" x="949" y="496" fill="#808080"/>
<use href="#g2d" x="957" y="496" fill="#808080"/>

</svg>
<svg style="position:absolute;left:0;top:0" width="996" height="502" viewBox="0 0 996 502">
<g fill="none" stroke="#262626" stroke-width="1.45" stroke-linecap="butt">
<path d="M832.4 477v2.2M827.4 482.2v-2.5h12v2.2M826 483.5h14M835.8 481L829.3 486.4L838.4 490.6M836.6 484Q835 489.2 826.8 490.8"/>
<path d="M847 477.2L840.8 482.6M847 477.2L853.3 482.2M841.8 483.5h10.6M842.3 486.4h9.6M847 483.5v6M840.4 489.5h13.2"/>
<path d="M860.8 477v1.8M855.4 481.8v-2.2h11.6v2M860 480.8L855.4 483.8M858.6 481.2h6.4L855.2 486M860.6 483.2Q864 485 867.6 485.4M856.7 486.4v4.4M856.7 486.6h8.7v4.2M856.7 489.6h8.7"/>
</g>
<g fill="#262626" style="font-family:'Liberation Sans',sans-serif;font-size:14.8px;letter-spacing:-0.15px;">
<text x="872.6" y="488.4">(</text>
<text x="882.6" y="488.4">bobao.360.cn</text>
<text x="976.4" y="488.4">)</text>
</g>
</svg>

</body></html>
